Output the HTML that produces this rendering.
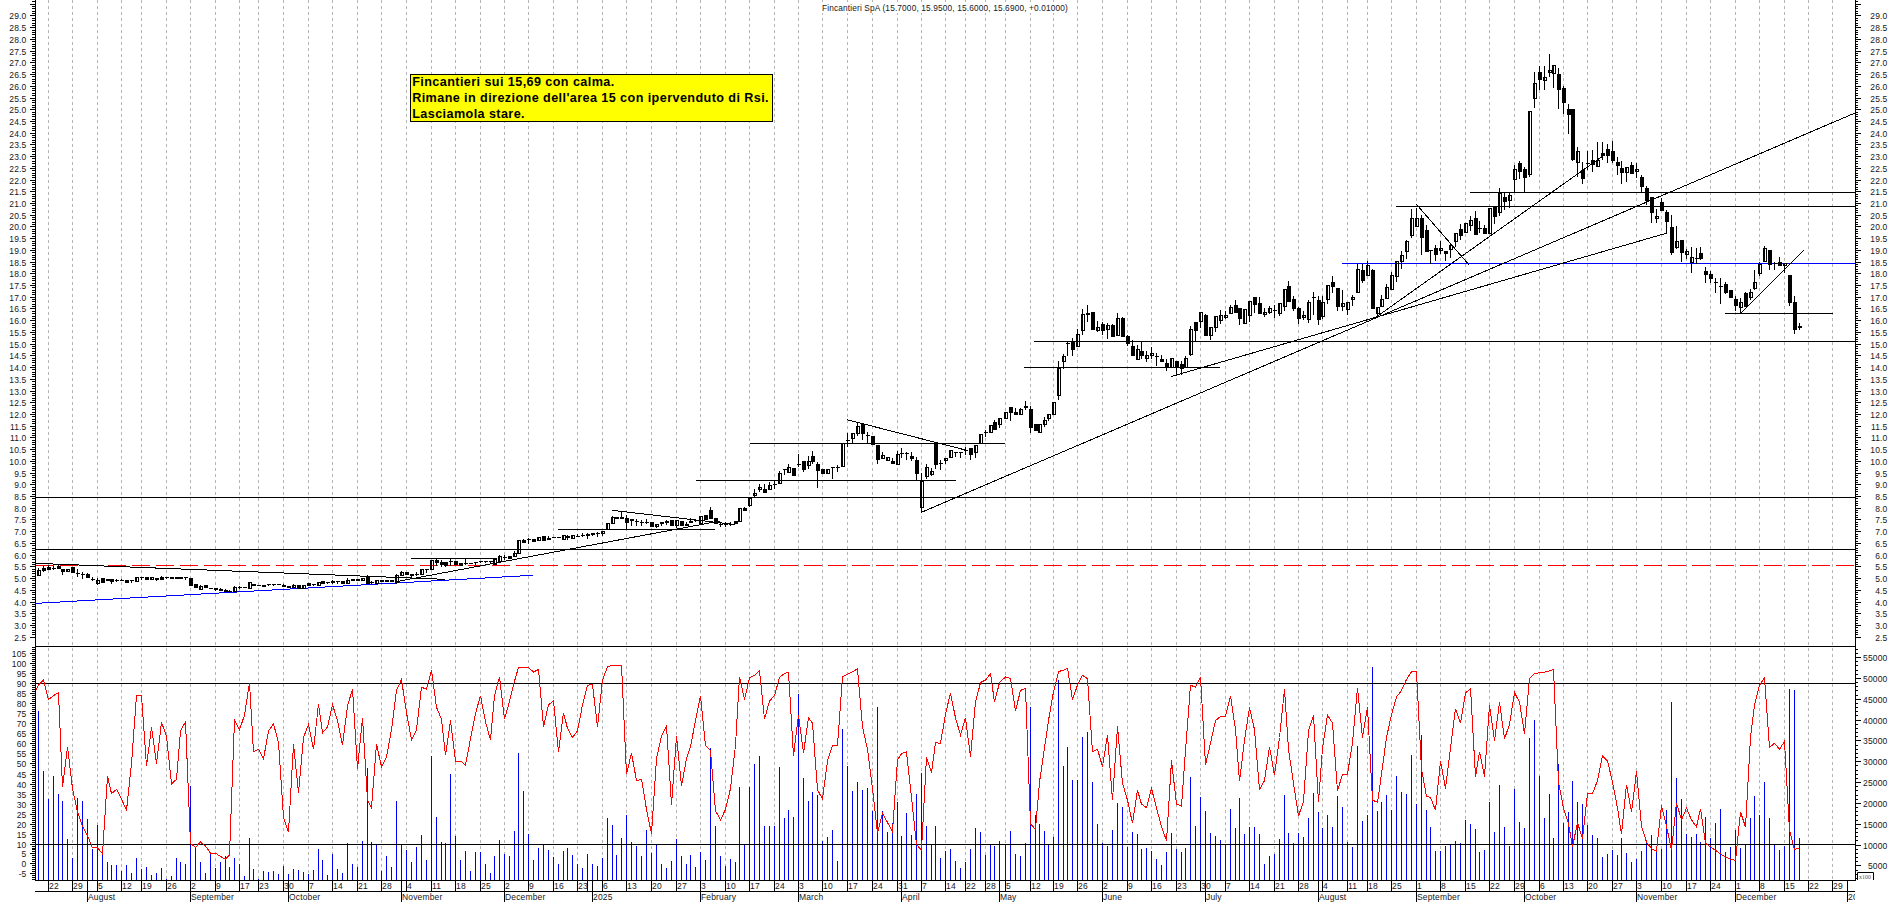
<!DOCTYPE html>
<html><head><meta charset="utf-8"><style>
html,body{margin:0;padding:0;background:#fff;overflow:hidden}
svg{display:block}
.t8{font-family:"Liberation Sans",sans-serif;font-size:8.5px;letter-spacing:0.15px;fill:#161620}
.ann{font-family:"Liberation Sans",sans-serif;font-size:12.6px;font-weight:bold;letter-spacing:0.42px;fill:#000}
</style></head><body>
<svg width="1890" height="902" viewBox="0 0 1890 902">
<rect width="1890" height="902" fill="#fff"/>
<path d="M48.5 0V880 M72.5 0V880 M97.5 0V880 M121.5 0V880 M141.5 0V880 M166.5 0V880 M190.5 0V880 M215.5 0V880 M239.5 0V880 M258.5 0V880 M283.5 0V880 M308.5 0V880 M332.5 0V880 M357.5 0V880 M381.5 0V880 M406.5 0V880 M431.5 0V880 M455.5 0V880 M480.5 0V880 M504.5 0V880 M528.5 0V880 M553.5 0V880 M577.5 0V880 M602.5 0V880 M626.5 0V880 M651.5 0V880 M676.5 0V880 M700.5 0V880 M725.5 0V880 M749.5 0V880 M774.5 0V880 M798.5 0V880 M822.5 0V880 M847.5 0V880 M872.5 0V880 M897.5 0V880 M921.5 0V880 M945.5 0V880 M965.5 0V880 M985.5 0V880 M1005.5 0V880 M1030.5 0V880 M1053.5 0V880 M1077.5 0V880 M1102.5 0V880 M1127.5 0V880 M1151.5 0V880 M1176.5 0V880 M1200.5 0V880 M1225.5 0V880 M1249.5 0V880 M1274.5 0V880 M1298.5 0V880 M1322.5 0V880 M1347.5 0V880 M1367.5 0V880 M1391.5 0V880 M1416.5 0V880 M1440.5 0V880 M1465.5 0V880 M1489.5 0V880 M1514.5 0V880 M1539.5 0V880 M1563.5 0V880 M1587.5 0V880 M1612.5 0V880 M1636.5 0V880 M1661.5 0V880 M1686.5 0V880 M1710.5 0V880 M1735.5 0V880 M1759.5 0V880 M1784.5 0V880 M1808.5 0V880 M1832.5 0V880" stroke="#b4b4b4" stroke-width="1" stroke-dasharray="3 3" fill="none"/>
<rect x="818" y="2" width="254" height="11" fill="#fff"/>
<text x="822" y="11" class="t8" textLength="246" lengthAdjust="spacingAndGlyphs">Fincantieri SpA (15.7000, 15.9500, 15.6000, 15.6900, +0.01000)</text>
<path d="M35.5 0V880 M1855.5 0V880" stroke="#000" stroke-width="1" fill="none"/>
<g fill="#000"><rect x="30" y="637" width="5" height="1"/><rect x="1856" y="637" width="5" height="1"/><rect x="32" y="634" width="3" height="1"/><rect x="1856" y="634" width="2" height="1"/><rect x="32" y="632" width="3" height="1"/><rect x="1856" y="632" width="2" height="1"/><rect x="32" y="630" width="3" height="1"/><rect x="1856" y="630" width="2" height="1"/><rect x="32" y="627" width="3" height="1"/><rect x="1856" y="627" width="2" height="1"/><rect x="30" y="625" width="5" height="1"/><rect x="1856" y="625" width="5" height="1"/><rect x="32" y="623" width="3" height="1"/><rect x="1856" y="623" width="2" height="1"/><rect x="32" y="620" width="3" height="1"/><rect x="1856" y="620" width="2" height="1"/><rect x="32" y="618" width="3" height="1"/><rect x="1856" y="618" width="2" height="1"/><rect x="32" y="616" width="3" height="1"/><rect x="1856" y="616" width="2" height="1"/><rect x="30" y="613" width="5" height="1"/><rect x="1856" y="613" width="5" height="1"/><rect x="32" y="611" width="3" height="1"/><rect x="1856" y="611" width="2" height="1"/><rect x="32" y="609" width="3" height="1"/><rect x="1856" y="609" width="2" height="1"/><rect x="32" y="606" width="3" height="1"/><rect x="1856" y="606" width="2" height="1"/><rect x="32" y="604" width="3" height="1"/><rect x="1856" y="604" width="2" height="1"/><rect x="30" y="602" width="5" height="1"/><rect x="1856" y="602" width="5" height="1"/><rect x="32" y="599" width="3" height="1"/><rect x="1856" y="599" width="2" height="1"/><rect x="32" y="597" width="3" height="1"/><rect x="1856" y="597" width="2" height="1"/><rect x="32" y="594" width="3" height="1"/><rect x="1856" y="594" width="2" height="1"/><rect x="32" y="592" width="3" height="1"/><rect x="1856" y="592" width="2" height="1"/><rect x="30" y="590" width="5" height="1"/><rect x="1856" y="590" width="5" height="1"/><rect x="32" y="587" width="3" height="1"/><rect x="1856" y="587" width="2" height="1"/><rect x="32" y="585" width="3" height="1"/><rect x="1856" y="585" width="2" height="1"/><rect x="32" y="583" width="3" height="1"/><rect x="1856" y="583" width="2" height="1"/><rect x="32" y="580" width="3" height="1"/><rect x="1856" y="580" width="2" height="1"/><rect x="30" y="578" width="5" height="1"/><rect x="1856" y="578" width="5" height="1"/><rect x="32" y="576" width="3" height="1"/><rect x="1856" y="576" width="2" height="1"/><rect x="32" y="573" width="3" height="1"/><rect x="1856" y="573" width="2" height="1"/><rect x="32" y="571" width="3" height="1"/><rect x="1856" y="571" width="2" height="1"/><rect x="32" y="569" width="3" height="1"/><rect x="1856" y="569" width="2" height="1"/><rect x="30" y="566" width="5" height="1"/><rect x="1856" y="566" width="5" height="1"/><rect x="32" y="564" width="3" height="1"/><rect x="1856" y="564" width="2" height="1"/><rect x="32" y="562" width="3" height="1"/><rect x="1856" y="562" width="2" height="1"/><rect x="32" y="559" width="3" height="1"/><rect x="1856" y="559" width="2" height="1"/><rect x="32" y="557" width="3" height="1"/><rect x="1856" y="557" width="2" height="1"/><rect x="30" y="555" width="5" height="1"/><rect x="1856" y="555" width="5" height="1"/><rect x="32" y="552" width="3" height="1"/><rect x="1856" y="552" width="2" height="1"/><rect x="32" y="550" width="3" height="1"/><rect x="1856" y="550" width="2" height="1"/><rect x="32" y="548" width="3" height="1"/><rect x="1856" y="548" width="2" height="1"/><rect x="32" y="545" width="3" height="1"/><rect x="1856" y="545" width="2" height="1"/><rect x="30" y="543" width="5" height="1"/><rect x="1856" y="543" width="5" height="1"/><rect x="32" y="541" width="3" height="1"/><rect x="1856" y="541" width="2" height="1"/><rect x="32" y="538" width="3" height="1"/><rect x="1856" y="538" width="2" height="1"/><rect x="32" y="536" width="3" height="1"/><rect x="1856" y="536" width="2" height="1"/><rect x="32" y="534" width="3" height="1"/><rect x="1856" y="534" width="2" height="1"/><rect x="30" y="531" width="5" height="1"/><rect x="1856" y="531" width="5" height="1"/><rect x="32" y="529" width="3" height="1"/><rect x="1856" y="529" width="2" height="1"/><rect x="32" y="526" width="3" height="1"/><rect x="1856" y="526" width="2" height="1"/><rect x="32" y="524" width="3" height="1"/><rect x="1856" y="524" width="2" height="1"/><rect x="32" y="522" width="3" height="1"/><rect x="1856" y="522" width="2" height="1"/><rect x="30" y="519" width="5" height="1"/><rect x="1856" y="519" width="5" height="1"/><rect x="32" y="517" width="3" height="1"/><rect x="1856" y="517" width="2" height="1"/><rect x="32" y="515" width="3" height="1"/><rect x="1856" y="515" width="2" height="1"/><rect x="32" y="512" width="3" height="1"/><rect x="1856" y="512" width="2" height="1"/><rect x="32" y="510" width="3" height="1"/><rect x="1856" y="510" width="2" height="1"/><rect x="30" y="508" width="5" height="1"/><rect x="1856" y="508" width="5" height="1"/><rect x="32" y="505" width="3" height="1"/><rect x="1856" y="505" width="2" height="1"/><rect x="32" y="503" width="3" height="1"/><rect x="1856" y="503" width="2" height="1"/><rect x="32" y="501" width="3" height="1"/><rect x="1856" y="501" width="2" height="1"/><rect x="32" y="498" width="3" height="1"/><rect x="1856" y="498" width="2" height="1"/><rect x="30" y="496" width="5" height="1"/><rect x="1856" y="496" width="5" height="1"/><rect x="32" y="494" width="3" height="1"/><rect x="1856" y="494" width="2" height="1"/><rect x="32" y="491" width="3" height="1"/><rect x="1856" y="491" width="2" height="1"/><rect x="32" y="489" width="3" height="1"/><rect x="1856" y="489" width="2" height="1"/><rect x="32" y="487" width="3" height="1"/><rect x="1856" y="487" width="2" height="1"/><rect x="30" y="484" width="5" height="1"/><rect x="1856" y="484" width="5" height="1"/><rect x="32" y="482" width="3" height="1"/><rect x="1856" y="482" width="2" height="1"/><rect x="32" y="480" width="3" height="1"/><rect x="1856" y="480" width="2" height="1"/><rect x="32" y="477" width="3" height="1"/><rect x="1856" y="477" width="2" height="1"/><rect x="32" y="475" width="3" height="1"/><rect x="1856" y="475" width="2" height="1"/><rect x="30" y="473" width="5" height="1"/><rect x="1856" y="473" width="5" height="1"/><rect x="32" y="470" width="3" height="1"/><rect x="1856" y="470" width="2" height="1"/><rect x="32" y="468" width="3" height="1"/><rect x="1856" y="468" width="2" height="1"/><rect x="32" y="466" width="3" height="1"/><rect x="1856" y="466" width="2" height="1"/><rect x="32" y="463" width="3" height="1"/><rect x="1856" y="463" width="2" height="1"/><rect x="30" y="461" width="5" height="1"/><rect x="1856" y="461" width="5" height="1"/><rect x="32" y="459" width="3" height="1"/><rect x="1856" y="459" width="2" height="1"/><rect x="32" y="456" width="3" height="1"/><rect x="1856" y="456" width="2" height="1"/><rect x="32" y="454" width="3" height="1"/><rect x="1856" y="454" width="2" height="1"/><rect x="32" y="451" width="3" height="1"/><rect x="1856" y="451" width="2" height="1"/><rect x="30" y="449" width="5" height="1"/><rect x="1856" y="449" width="5" height="1"/><rect x="32" y="447" width="3" height="1"/><rect x="1856" y="447" width="2" height="1"/><rect x="32" y="444" width="3" height="1"/><rect x="1856" y="444" width="2" height="1"/><rect x="32" y="442" width="3" height="1"/><rect x="1856" y="442" width="2" height="1"/><rect x="32" y="440" width="3" height="1"/><rect x="1856" y="440" width="2" height="1"/><rect x="30" y="437" width="5" height="1"/><rect x="1856" y="437" width="5" height="1"/><rect x="32" y="435" width="3" height="1"/><rect x="1856" y="435" width="2" height="1"/><rect x="32" y="433" width="3" height="1"/><rect x="1856" y="433" width="2" height="1"/><rect x="32" y="430" width="3" height="1"/><rect x="1856" y="430" width="2" height="1"/><rect x="32" y="428" width="3" height="1"/><rect x="1856" y="428" width="2" height="1"/><rect x="30" y="426" width="5" height="1"/><rect x="1856" y="426" width="5" height="1"/><rect x="32" y="423" width="3" height="1"/><rect x="1856" y="423" width="2" height="1"/><rect x="32" y="421" width="3" height="1"/><rect x="1856" y="421" width="2" height="1"/><rect x="32" y="419" width="3" height="1"/><rect x="1856" y="419" width="2" height="1"/><rect x="32" y="416" width="3" height="1"/><rect x="1856" y="416" width="2" height="1"/><rect x="30" y="414" width="5" height="1"/><rect x="1856" y="414" width="5" height="1"/><rect x="32" y="412" width="3" height="1"/><rect x="1856" y="412" width="2" height="1"/><rect x="32" y="409" width="3" height="1"/><rect x="1856" y="409" width="2" height="1"/><rect x="32" y="407" width="3" height="1"/><rect x="1856" y="407" width="2" height="1"/><rect x="32" y="405" width="3" height="1"/><rect x="1856" y="405" width="2" height="1"/><rect x="30" y="402" width="5" height="1"/><rect x="1856" y="402" width="5" height="1"/><rect x="32" y="400" width="3" height="1"/><rect x="1856" y="400" width="2" height="1"/><rect x="32" y="398" width="3" height="1"/><rect x="1856" y="398" width="2" height="1"/><rect x="32" y="395" width="3" height="1"/><rect x="1856" y="395" width="2" height="1"/><rect x="32" y="393" width="3" height="1"/><rect x="1856" y="393" width="2" height="1"/><rect x="30" y="391" width="5" height="1"/><rect x="1856" y="391" width="5" height="1"/><rect x="32" y="388" width="3" height="1"/><rect x="1856" y="388" width="2" height="1"/><rect x="32" y="386" width="3" height="1"/><rect x="1856" y="386" width="2" height="1"/><rect x="32" y="384" width="3" height="1"/><rect x="1856" y="384" width="2" height="1"/><rect x="32" y="381" width="3" height="1"/><rect x="1856" y="381" width="2" height="1"/><rect x="30" y="379" width="5" height="1"/><rect x="1856" y="379" width="5" height="1"/><rect x="32" y="376" width="3" height="1"/><rect x="1856" y="376" width="2" height="1"/><rect x="32" y="374" width="3" height="1"/><rect x="1856" y="374" width="2" height="1"/><rect x="32" y="372" width="3" height="1"/><rect x="1856" y="372" width="2" height="1"/><rect x="32" y="369" width="3" height="1"/><rect x="1856" y="369" width="2" height="1"/><rect x="30" y="367" width="5" height="1"/><rect x="1856" y="367" width="5" height="1"/><rect x="32" y="365" width="3" height="1"/><rect x="1856" y="365" width="2" height="1"/><rect x="32" y="362" width="3" height="1"/><rect x="1856" y="362" width="2" height="1"/><rect x="32" y="360" width="3" height="1"/><rect x="1856" y="360" width="2" height="1"/><rect x="32" y="358" width="3" height="1"/><rect x="1856" y="358" width="2" height="1"/><rect x="30" y="355" width="5" height="1"/><rect x="1856" y="355" width="5" height="1"/><rect x="32" y="353" width="3" height="1"/><rect x="1856" y="353" width="2" height="1"/><rect x="32" y="351" width="3" height="1"/><rect x="1856" y="351" width="2" height="1"/><rect x="32" y="348" width="3" height="1"/><rect x="1856" y="348" width="2" height="1"/><rect x="32" y="346" width="3" height="1"/><rect x="1856" y="346" width="2" height="1"/><rect x="30" y="344" width="5" height="1"/><rect x="1856" y="344" width="5" height="1"/><rect x="32" y="341" width="3" height="1"/><rect x="1856" y="341" width="2" height="1"/><rect x="32" y="339" width="3" height="1"/><rect x="1856" y="339" width="2" height="1"/><rect x="32" y="337" width="3" height="1"/><rect x="1856" y="337" width="2" height="1"/><rect x="32" y="334" width="3" height="1"/><rect x="1856" y="334" width="2" height="1"/><rect x="30" y="332" width="5" height="1"/><rect x="1856" y="332" width="5" height="1"/><rect x="32" y="330" width="3" height="1"/><rect x="1856" y="330" width="2" height="1"/><rect x="32" y="327" width="3" height="1"/><rect x="1856" y="327" width="2" height="1"/><rect x="32" y="325" width="3" height="1"/><rect x="1856" y="325" width="2" height="1"/><rect x="32" y="323" width="3" height="1"/><rect x="1856" y="323" width="2" height="1"/><rect x="30" y="320" width="5" height="1"/><rect x="1856" y="320" width="5" height="1"/><rect x="32" y="318" width="3" height="1"/><rect x="1856" y="318" width="2" height="1"/><rect x="32" y="316" width="3" height="1"/><rect x="1856" y="316" width="2" height="1"/><rect x="32" y="313" width="3" height="1"/><rect x="1856" y="313" width="2" height="1"/><rect x="32" y="311" width="3" height="1"/><rect x="1856" y="311" width="2" height="1"/><rect x="30" y="308" width="5" height="1"/><rect x="1856" y="308" width="5" height="1"/><rect x="32" y="306" width="3" height="1"/><rect x="1856" y="306" width="2" height="1"/><rect x="32" y="304" width="3" height="1"/><rect x="1856" y="304" width="2" height="1"/><rect x="32" y="301" width="3" height="1"/><rect x="1856" y="301" width="2" height="1"/><rect x="32" y="299" width="3" height="1"/><rect x="1856" y="299" width="2" height="1"/><rect x="30" y="297" width="5" height="1"/><rect x="1856" y="297" width="5" height="1"/><rect x="32" y="294" width="3" height="1"/><rect x="1856" y="294" width="2" height="1"/><rect x="32" y="292" width="3" height="1"/><rect x="1856" y="292" width="2" height="1"/><rect x="32" y="290" width="3" height="1"/><rect x="1856" y="290" width="2" height="1"/><rect x="32" y="287" width="3" height="1"/><rect x="1856" y="287" width="2" height="1"/><rect x="30" y="285" width="5" height="1"/><rect x="1856" y="285" width="5" height="1"/><rect x="32" y="283" width="3" height="1"/><rect x="1856" y="283" width="2" height="1"/><rect x="32" y="280" width="3" height="1"/><rect x="1856" y="280" width="2" height="1"/><rect x="32" y="278" width="3" height="1"/><rect x="1856" y="278" width="2" height="1"/><rect x="32" y="276" width="3" height="1"/><rect x="1856" y="276" width="2" height="1"/><rect x="30" y="273" width="5" height="1"/><rect x="1856" y="273" width="5" height="1"/><rect x="32" y="271" width="3" height="1"/><rect x="1856" y="271" width="2" height="1"/><rect x="32" y="269" width="3" height="1"/><rect x="1856" y="269" width="2" height="1"/><rect x="32" y="266" width="3" height="1"/><rect x="1856" y="266" width="2" height="1"/><rect x="32" y="264" width="3" height="1"/><rect x="1856" y="264" width="2" height="1"/><rect x="30" y="262" width="5" height="1"/><rect x="1856" y="262" width="5" height="1"/><rect x="32" y="259" width="3" height="1"/><rect x="1856" y="259" width="2" height="1"/><rect x="32" y="257" width="3" height="1"/><rect x="1856" y="257" width="2" height="1"/><rect x="32" y="255" width="3" height="1"/><rect x="1856" y="255" width="2" height="1"/><rect x="32" y="252" width="3" height="1"/><rect x="1856" y="252" width="2" height="1"/><rect x="30" y="250" width="5" height="1"/><rect x="1856" y="250" width="5" height="1"/><rect x="32" y="248" width="3" height="1"/><rect x="1856" y="248" width="2" height="1"/><rect x="32" y="245" width="3" height="1"/><rect x="1856" y="245" width="2" height="1"/><rect x="32" y="243" width="3" height="1"/><rect x="1856" y="243" width="2" height="1"/><rect x="32" y="241" width="3" height="1"/><rect x="1856" y="241" width="2" height="1"/><rect x="30" y="238" width="5" height="1"/><rect x="1856" y="238" width="5" height="1"/><rect x="32" y="236" width="3" height="1"/><rect x="1856" y="236" width="2" height="1"/><rect x="32" y="233" width="3" height="1"/><rect x="1856" y="233" width="2" height="1"/><rect x="32" y="231" width="3" height="1"/><rect x="1856" y="231" width="2" height="1"/><rect x="32" y="229" width="3" height="1"/><rect x="1856" y="229" width="2" height="1"/><rect x="30" y="226" width="5" height="1"/><rect x="1856" y="226" width="5" height="1"/><rect x="32" y="224" width="3" height="1"/><rect x="1856" y="224" width="2" height="1"/><rect x="32" y="222" width="3" height="1"/><rect x="1856" y="222" width="2" height="1"/><rect x="32" y="219" width="3" height="1"/><rect x="1856" y="219" width="2" height="1"/><rect x="32" y="217" width="3" height="1"/><rect x="1856" y="217" width="2" height="1"/><rect x="30" y="215" width="5" height="1"/><rect x="1856" y="215" width="5" height="1"/><rect x="32" y="212" width="3" height="1"/><rect x="1856" y="212" width="2" height="1"/><rect x="32" y="210" width="3" height="1"/><rect x="1856" y="210" width="2" height="1"/><rect x="32" y="208" width="3" height="1"/><rect x="1856" y="208" width="2" height="1"/><rect x="32" y="205" width="3" height="1"/><rect x="1856" y="205" width="2" height="1"/><rect x="30" y="203" width="5" height="1"/><rect x="1856" y="203" width="5" height="1"/><rect x="32" y="201" width="3" height="1"/><rect x="1856" y="201" width="2" height="1"/><rect x="32" y="198" width="3" height="1"/><rect x="1856" y="198" width="2" height="1"/><rect x="32" y="196" width="3" height="1"/><rect x="1856" y="196" width="2" height="1"/><rect x="32" y="194" width="3" height="1"/><rect x="1856" y="194" width="2" height="1"/><rect x="30" y="191" width="5" height="1"/><rect x="1856" y="191" width="5" height="1"/><rect x="32" y="189" width="3" height="1"/><rect x="1856" y="189" width="2" height="1"/><rect x="32" y="187" width="3" height="1"/><rect x="1856" y="187" width="2" height="1"/><rect x="32" y="184" width="3" height="1"/><rect x="1856" y="184" width="2" height="1"/><rect x="32" y="182" width="3" height="1"/><rect x="1856" y="182" width="2" height="1"/><rect x="30" y="180" width="5" height="1"/><rect x="1856" y="180" width="5" height="1"/><rect x="32" y="177" width="3" height="1"/><rect x="1856" y="177" width="2" height="1"/><rect x="32" y="175" width="3" height="1"/><rect x="1856" y="175" width="2" height="1"/><rect x="32" y="173" width="3" height="1"/><rect x="1856" y="173" width="2" height="1"/><rect x="32" y="170" width="3" height="1"/><rect x="1856" y="170" width="2" height="1"/><rect x="30" y="168" width="5" height="1"/><rect x="1856" y="168" width="5" height="1"/><rect x="32" y="166" width="3" height="1"/><rect x="1856" y="166" width="2" height="1"/><rect x="32" y="163" width="3" height="1"/><rect x="1856" y="163" width="2" height="1"/><rect x="32" y="161" width="3" height="1"/><rect x="1856" y="161" width="2" height="1"/><rect x="32" y="158" width="3" height="1"/><rect x="1856" y="158" width="2" height="1"/><rect x="30" y="156" width="5" height="1"/><rect x="1856" y="156" width="5" height="1"/><rect x="32" y="154" width="3" height="1"/><rect x="1856" y="154" width="2" height="1"/><rect x="32" y="151" width="3" height="1"/><rect x="1856" y="151" width="2" height="1"/><rect x="32" y="149" width="3" height="1"/><rect x="1856" y="149" width="2" height="1"/><rect x="32" y="147" width="3" height="1"/><rect x="1856" y="147" width="2" height="1"/><rect x="30" y="144" width="5" height="1"/><rect x="1856" y="144" width="5" height="1"/><rect x="32" y="142" width="3" height="1"/><rect x="1856" y="142" width="2" height="1"/><rect x="32" y="140" width="3" height="1"/><rect x="1856" y="140" width="2" height="1"/><rect x="32" y="137" width="3" height="1"/><rect x="1856" y="137" width="2" height="1"/><rect x="32" y="135" width="3" height="1"/><rect x="1856" y="135" width="2" height="1"/><rect x="30" y="133" width="5" height="1"/><rect x="1856" y="133" width="5" height="1"/><rect x="32" y="130" width="3" height="1"/><rect x="1856" y="130" width="2" height="1"/><rect x="32" y="128" width="3" height="1"/><rect x="1856" y="128" width="2" height="1"/><rect x="32" y="126" width="3" height="1"/><rect x="1856" y="126" width="2" height="1"/><rect x="32" y="123" width="3" height="1"/><rect x="1856" y="123" width="2" height="1"/><rect x="30" y="121" width="5" height="1"/><rect x="1856" y="121" width="5" height="1"/><rect x="32" y="119" width="3" height="1"/><rect x="1856" y="119" width="2" height="1"/><rect x="32" y="116" width="3" height="1"/><rect x="1856" y="116" width="2" height="1"/><rect x="32" y="114" width="3" height="1"/><rect x="1856" y="114" width="2" height="1"/><rect x="32" y="112" width="3" height="1"/><rect x="1856" y="112" width="2" height="1"/><rect x="30" y="109" width="5" height="1"/><rect x="1856" y="109" width="5" height="1"/><rect x="32" y="107" width="3" height="1"/><rect x="1856" y="107" width="2" height="1"/><rect x="32" y="105" width="3" height="1"/><rect x="1856" y="105" width="2" height="1"/><rect x="32" y="102" width="3" height="1"/><rect x="1856" y="102" width="2" height="1"/><rect x="32" y="100" width="3" height="1"/><rect x="1856" y="100" width="2" height="1"/><rect x="30" y="98" width="5" height="1"/><rect x="1856" y="98" width="5" height="1"/><rect x="32" y="95" width="3" height="1"/><rect x="1856" y="95" width="2" height="1"/><rect x="32" y="93" width="3" height="1"/><rect x="1856" y="93" width="2" height="1"/><rect x="32" y="90" width="3" height="1"/><rect x="1856" y="90" width="2" height="1"/><rect x="32" y="88" width="3" height="1"/><rect x="1856" y="88" width="2" height="1"/><rect x="30" y="86" width="5" height="1"/><rect x="1856" y="86" width="5" height="1"/><rect x="32" y="83" width="3" height="1"/><rect x="1856" y="83" width="2" height="1"/><rect x="32" y="81" width="3" height="1"/><rect x="1856" y="81" width="2" height="1"/><rect x="32" y="79" width="3" height="1"/><rect x="1856" y="79" width="2" height="1"/><rect x="32" y="76" width="3" height="1"/><rect x="1856" y="76" width="2" height="1"/><rect x="30" y="74" width="5" height="1"/><rect x="1856" y="74" width="5" height="1"/><rect x="32" y="72" width="3" height="1"/><rect x="1856" y="72" width="2" height="1"/><rect x="32" y="69" width="3" height="1"/><rect x="1856" y="69" width="2" height="1"/><rect x="32" y="67" width="3" height="1"/><rect x="1856" y="67" width="2" height="1"/><rect x="32" y="65" width="3" height="1"/><rect x="1856" y="65" width="2" height="1"/><rect x="30" y="62" width="5" height="1"/><rect x="1856" y="62" width="5" height="1"/><rect x="32" y="60" width="3" height="1"/><rect x="1856" y="60" width="2" height="1"/><rect x="32" y="58" width="3" height="1"/><rect x="1856" y="58" width="2" height="1"/><rect x="32" y="55" width="3" height="1"/><rect x="1856" y="55" width="2" height="1"/><rect x="32" y="53" width="3" height="1"/><rect x="1856" y="53" width="2" height="1"/><rect x="30" y="51" width="5" height="1"/><rect x="1856" y="51" width="5" height="1"/><rect x="32" y="48" width="3" height="1"/><rect x="1856" y="48" width="2" height="1"/><rect x="32" y="46" width="3" height="1"/><rect x="1856" y="46" width="2" height="1"/><rect x="32" y="44" width="3" height="1"/><rect x="1856" y="44" width="2" height="1"/><rect x="32" y="41" width="3" height="1"/><rect x="1856" y="41" width="2" height="1"/><rect x="30" y="39" width="5" height="1"/><rect x="1856" y="39" width="5" height="1"/><rect x="32" y="37" width="3" height="1"/><rect x="1856" y="37" width="2" height="1"/><rect x="32" y="34" width="3" height="1"/><rect x="1856" y="34" width="2" height="1"/><rect x="32" y="32" width="3" height="1"/><rect x="1856" y="32" width="2" height="1"/><rect x="32" y="30" width="3" height="1"/><rect x="1856" y="30" width="2" height="1"/><rect x="30" y="27" width="5" height="1"/><rect x="1856" y="27" width="5" height="1"/><rect x="32" y="25" width="3" height="1"/><rect x="1856" y="25" width="2" height="1"/><rect x="32" y="23" width="3" height="1"/><rect x="1856" y="23" width="2" height="1"/><rect x="32" y="20" width="3" height="1"/><rect x="1856" y="20" width="2" height="1"/><rect x="32" y="18" width="3" height="1"/><rect x="1856" y="18" width="2" height="1"/><rect x="30" y="15" width="5" height="1"/><rect x="1856" y="15" width="5" height="1"/><rect x="32" y="13" width="3" height="1"/><rect x="1856" y="13" width="2" height="1"/><rect x="32" y="11" width="3" height="1"/><rect x="1856" y="11" width="2" height="1"/><rect x="32" y="8" width="3" height="1"/><rect x="1856" y="8" width="2" height="1"/><rect x="32" y="6" width="3" height="1"/><rect x="1856" y="6" width="2" height="1"/><rect x="30" y="4" width="5" height="1"/><rect x="1856" y="4" width="5" height="1"/><rect x="32" y="1" width="3" height="1"/><rect x="1856" y="1" width="2" height="1"/></g>
<g><text x="26.5" y="640.5" class="t8" text-anchor="end">2.5</text><text x="1887.5" y="640.5" class="t8" text-anchor="end">2.5</text><text x="26.5" y="628.5" class="t8" text-anchor="end">3.0</text><text x="1887.5" y="628.5" class="t8" text-anchor="end">3.0</text><text x="26.5" y="616.5" class="t8" text-anchor="end">3.5</text><text x="1887.5" y="616.5" class="t8" text-anchor="end">3.5</text><text x="26.5" y="605.5" class="t8" text-anchor="end">4.0</text><text x="1887.5" y="605.5" class="t8" text-anchor="end">4.0</text><text x="26.5" y="593.5" class="t8" text-anchor="end">4.5</text><text x="1887.5" y="593.5" class="t8" text-anchor="end">4.5</text><text x="26.5" y="581.5" class="t8" text-anchor="end">5.0</text><text x="1887.5" y="581.5" class="t8" text-anchor="end">5.0</text><text x="26.5" y="569.5" class="t8" text-anchor="end">5.5</text><text x="1887.5" y="569.5" class="t8" text-anchor="end">5.5</text><text x="26.5" y="558.5" class="t8" text-anchor="end">6.0</text><text x="1887.5" y="558.5" class="t8" text-anchor="end">6.0</text><text x="26.5" y="546.5" class="t8" text-anchor="end">6.5</text><text x="1887.5" y="546.5" class="t8" text-anchor="end">6.5</text><text x="26.5" y="534.5" class="t8" text-anchor="end">7.0</text><text x="1887.5" y="534.5" class="t8" text-anchor="end">7.0</text><text x="26.5" y="522.5" class="t8" text-anchor="end">7.5</text><text x="1887.5" y="522.5" class="t8" text-anchor="end">7.5</text><text x="26.5" y="511.5" class="t8" text-anchor="end">8.0</text><text x="1887.5" y="511.5" class="t8" text-anchor="end">8.0</text><text x="26.5" y="499.5" class="t8" text-anchor="end">8.5</text><text x="1887.5" y="499.5" class="t8" text-anchor="end">8.5</text><text x="26.5" y="487.5" class="t8" text-anchor="end">9.0</text><text x="1887.5" y="487.5" class="t8" text-anchor="end">9.0</text><text x="26.5" y="476.5" class="t8" text-anchor="end">9.5</text><text x="1887.5" y="476.5" class="t8" text-anchor="end">9.5</text><text x="26.5" y="464.5" class="t8" text-anchor="end">10.0</text><text x="1887.5" y="464.5" class="t8" text-anchor="end">10.0</text><text x="26.5" y="452.5" class="t8" text-anchor="end">10.5</text><text x="1887.5" y="452.5" class="t8" text-anchor="end">10.5</text><text x="26.5" y="440.5" class="t8" text-anchor="end">11.0</text><text x="1887.5" y="440.5" class="t8" text-anchor="end">11.0</text><text x="26.5" y="429.5" class="t8" text-anchor="end">11.5</text><text x="1887.5" y="429.5" class="t8" text-anchor="end">11.5</text><text x="26.5" y="417.5" class="t8" text-anchor="end">12.0</text><text x="1887.5" y="417.5" class="t8" text-anchor="end">12.0</text><text x="26.5" y="405.5" class="t8" text-anchor="end">12.5</text><text x="1887.5" y="405.5" class="t8" text-anchor="end">12.5</text><text x="26.5" y="394.5" class="t8" text-anchor="end">13.0</text><text x="1887.5" y="394.5" class="t8" text-anchor="end">13.0</text><text x="26.5" y="382.5" class="t8" text-anchor="end">13.5</text><text x="1887.5" y="382.5" class="t8" text-anchor="end">13.5</text><text x="26.5" y="370.5" class="t8" text-anchor="end">14.0</text><text x="1887.5" y="370.5" class="t8" text-anchor="end">14.0</text><text x="26.5" y="358.5" class="t8" text-anchor="end">14.5</text><text x="1887.5" y="358.5" class="t8" text-anchor="end">14.5</text><text x="26.5" y="347.5" class="t8" text-anchor="end">15.0</text><text x="1887.5" y="347.5" class="t8" text-anchor="end">15.0</text><text x="26.5" y="335.5" class="t8" text-anchor="end">15.5</text><text x="1887.5" y="335.5" class="t8" text-anchor="end">15.5</text><text x="26.5" y="323.5" class="t8" text-anchor="end">16.0</text><text x="1887.5" y="323.5" class="t8" text-anchor="end">16.0</text><text x="26.5" y="311.5" class="t8" text-anchor="end">16.5</text><text x="1887.5" y="311.5" class="t8" text-anchor="end">16.5</text><text x="26.5" y="300.5" class="t8" text-anchor="end">17.0</text><text x="1887.5" y="300.5" class="t8" text-anchor="end">17.0</text><text x="26.5" y="288.5" class="t8" text-anchor="end">17.5</text><text x="1887.5" y="288.5" class="t8" text-anchor="end">17.5</text><text x="26.5" y="276.5" class="t8" text-anchor="end">18.0</text><text x="1887.5" y="276.5" class="t8" text-anchor="end">18.0</text><text x="26.5" y="265.5" class="t8" text-anchor="end">18.5</text><text x="1887.5" y="265.5" class="t8" text-anchor="end">18.5</text><text x="26.5" y="253.5" class="t8" text-anchor="end">19.0</text><text x="1887.5" y="253.5" class="t8" text-anchor="end">19.0</text><text x="26.5" y="241.5" class="t8" text-anchor="end">19.5</text><text x="1887.5" y="241.5" class="t8" text-anchor="end">19.5</text><text x="26.5" y="229.5" class="t8" text-anchor="end">20.0</text><text x="1887.5" y="229.5" class="t8" text-anchor="end">20.0</text><text x="26.5" y="218.5" class="t8" text-anchor="end">20.5</text><text x="1887.5" y="218.5" class="t8" text-anchor="end">20.5</text><text x="26.5" y="206.5" class="t8" text-anchor="end">21.0</text><text x="1887.5" y="206.5" class="t8" text-anchor="end">21.0</text><text x="26.5" y="194.5" class="t8" text-anchor="end">21.5</text><text x="1887.5" y="194.5" class="t8" text-anchor="end">21.5</text><text x="26.5" y="183.5" class="t8" text-anchor="end">22.0</text><text x="1887.5" y="183.5" class="t8" text-anchor="end">22.0</text><text x="26.5" y="171.5" class="t8" text-anchor="end">22.5</text><text x="1887.5" y="171.5" class="t8" text-anchor="end">22.5</text><text x="26.5" y="159.5" class="t8" text-anchor="end">23.0</text><text x="1887.5" y="159.5" class="t8" text-anchor="end">23.0</text><text x="26.5" y="147.5" class="t8" text-anchor="end">23.5</text><text x="1887.5" y="147.5" class="t8" text-anchor="end">23.5</text><text x="26.5" y="136.5" class="t8" text-anchor="end">24.0</text><text x="1887.5" y="136.5" class="t8" text-anchor="end">24.0</text><text x="26.5" y="124.5" class="t8" text-anchor="end">24.5</text><text x="1887.5" y="124.5" class="t8" text-anchor="end">24.5</text><text x="26.5" y="112.5" class="t8" text-anchor="end">25.0</text><text x="1887.5" y="112.5" class="t8" text-anchor="end">25.0</text><text x="26.5" y="101.5" class="t8" text-anchor="end">25.5</text><text x="1887.5" y="101.5" class="t8" text-anchor="end">25.5</text><text x="26.5" y="89.5" class="t8" text-anchor="end">26.0</text><text x="1887.5" y="89.5" class="t8" text-anchor="end">26.0</text><text x="26.5" y="77.5" class="t8" text-anchor="end">26.5</text><text x="1887.5" y="77.5" class="t8" text-anchor="end">26.5</text><text x="26.5" y="65.5" class="t8" text-anchor="end">27.0</text><text x="1887.5" y="65.5" class="t8" text-anchor="end">27.0</text><text x="26.5" y="54.5" class="t8" text-anchor="end">27.5</text><text x="1887.5" y="54.5" class="t8" text-anchor="end">27.5</text><text x="26.5" y="42.5" class="t8" text-anchor="end">28.0</text><text x="1887.5" y="42.5" class="t8" text-anchor="end">28.0</text><text x="26.5" y="30.5" class="t8" text-anchor="end">28.5</text><text x="1887.5" y="30.5" class="t8" text-anchor="end">28.5</text><text x="26.5" y="18.5" class="t8" text-anchor="end">29.0</text><text x="1887.5" y="18.5" class="t8" text-anchor="end">29.0</text></g>
<g fill="#000"><rect x="32" y="879" width="3" height="1"/><rect x="32" y="877" width="3" height="1"/><rect x="32" y="875" width="3" height="1"/><rect x="30" y="873" width="5" height="1"/><rect x="32" y="871" width="3" height="1"/><rect x="32" y="869" width="3" height="1"/><rect x="32" y="867" width="3" height="1"/><rect x="32" y="865" width="3" height="1"/><rect x="30" y="863" width="5" height="1"/><rect x="32" y="861" width="3" height="1"/><rect x="32" y="859" width="3" height="1"/><rect x="32" y="857" width="3" height="1"/><rect x="32" y="855" width="3" height="1"/><rect x="30" y="853" width="5" height="1"/><rect x="32" y="851" width="3" height="1"/><rect x="32" y="849" width="3" height="1"/><rect x="32" y="848" width="3" height="1"/><rect x="32" y="846" width="3" height="1"/><rect x="30" y="844" width="5" height="1"/><rect x="32" y="842" width="3" height="1"/><rect x="32" y="840" width="3" height="1"/><rect x="32" y="838" width="3" height="1"/><rect x="32" y="836" width="3" height="1"/><rect x="30" y="834" width="5" height="1"/><rect x="32" y="832" width="3" height="1"/><rect x="32" y="830" width="3" height="1"/><rect x="32" y="828" width="3" height="1"/><rect x="32" y="826" width="3" height="1"/><rect x="30" y="824" width="5" height="1"/><rect x="32" y="822" width="3" height="1"/><rect x="32" y="820" width="3" height="1"/><rect x="32" y="818" width="3" height="1"/><rect x="32" y="816" width="3" height="1"/><rect x="30" y="814" width="5" height="1"/><rect x="32" y="812" width="3" height="1"/><rect x="32" y="810" width="3" height="1"/><rect x="32" y="808" width="3" height="1"/><rect x="32" y="806" width="3" height="1"/><rect x="30" y="804" width="5" height="1"/><rect x="32" y="802" width="3" height="1"/><rect x="32" y="800" width="3" height="1"/><rect x="32" y="798" width="3" height="1"/><rect x="32" y="796" width="3" height="1"/><rect x="30" y="794" width="5" height="1"/><rect x="32" y="792" width="3" height="1"/><rect x="32" y="790" width="3" height="1"/><rect x="32" y="788" width="3" height="1"/><rect x="32" y="786" width="3" height="1"/><rect x="30" y="784" width="5" height="1"/><rect x="32" y="782" width="3" height="1"/><rect x="32" y="780" width="3" height="1"/><rect x="32" y="778" width="3" height="1"/><rect x="32" y="776" width="3" height="1"/><rect x="30" y="774" width="5" height="1"/><rect x="32" y="772" width="3" height="1"/><rect x="32" y="770" width="3" height="1"/><rect x="32" y="767" width="3" height="1"/><rect x="32" y="765" width="3" height="1"/><rect x="30" y="763" width="5" height="1"/><rect x="32" y="761" width="3" height="1"/><rect x="32" y="759" width="3" height="1"/><rect x="32" y="757" width="3" height="1"/><rect x="32" y="755" width="3" height="1"/><rect x="30" y="753" width="5" height="1"/><rect x="32" y="751" width="3" height="1"/><rect x="32" y="749" width="3" height="1"/><rect x="32" y="747" width="3" height="1"/><rect x="32" y="745" width="3" height="1"/><rect x="30" y="743" width="5" height="1"/><rect x="32" y="741" width="3" height="1"/><rect x="32" y="739" width="3" height="1"/><rect x="32" y="737" width="3" height="1"/><rect x="32" y="735" width="3" height="1"/><rect x="30" y="733" width="5" height="1"/><rect x="32" y="731" width="3" height="1"/><rect x="32" y="729" width="3" height="1"/><rect x="32" y="727" width="3" height="1"/><rect x="32" y="725" width="3" height="1"/><rect x="30" y="723" width="5" height="1"/><rect x="32" y="721" width="3" height="1"/><rect x="32" y="719" width="3" height="1"/><rect x="32" y="717" width="3" height="1"/><rect x="32" y="715" width="3" height="1"/><rect x="30" y="713" width="5" height="1"/><rect x="32" y="711" width="3" height="1"/><rect x="32" y="709" width="3" height="1"/><rect x="32" y="707" width="3" height="1"/><rect x="32" y="705" width="3" height="1"/><rect x="30" y="703" width="5" height="1"/><rect x="32" y="701" width="3" height="1"/><rect x="32" y="699" width="3" height="1"/><rect x="32" y="697" width="3" height="1"/><rect x="32" y="695" width="3" height="1"/><rect x="30" y="693" width="5" height="1"/><rect x="32" y="691" width="3" height="1"/><rect x="32" y="689" width="3" height="1"/><rect x="32" y="687" width="3" height="1"/><rect x="32" y="685" width="3" height="1"/><rect x="30" y="683" width="5" height="1"/><rect x="32" y="681" width="3" height="1"/><rect x="32" y="679" width="3" height="1"/><rect x="32" y="677" width="3" height="1"/><rect x="32" y="675" width="3" height="1"/><rect x="30" y="673" width="5" height="1"/><rect x="32" y="671" width="3" height="1"/><rect x="32" y="669" width="3" height="1"/><rect x="32" y="667" width="3" height="1"/><rect x="32" y="665" width="3" height="1"/><rect x="30" y="663" width="5" height="1"/><rect x="32" y="661" width="3" height="1"/><rect x="32" y="659" width="3" height="1"/><rect x="32" y="657" width="3" height="1"/><rect x="32" y="655" width="3" height="1"/><rect x="30" y="653" width="5" height="1"/><rect x="32" y="651" width="3" height="1"/><rect x="32" y="649" width="3" height="1"/><rect x="32" y="647" width="3" height="1"/><rect x="1856" y="878" width="2" height="1"/><rect x="1856" y="874" width="2" height="1"/><rect x="1856" y="870" width="2" height="1"/><rect x="1856" y="865" width="5" height="1"/><rect x="1856" y="861" width="2" height="1"/><rect x="1856" y="857" width="2" height="1"/><rect x="1856" y="853" width="2" height="1"/><rect x="1856" y="849" width="2" height="1"/><rect x="1856" y="845" width="5" height="1"/><rect x="1856" y="840" width="2" height="1"/><rect x="1856" y="836" width="2" height="1"/><rect x="1856" y="832" width="2" height="1"/><rect x="1856" y="828" width="2" height="1"/><rect x="1856" y="824" width="5" height="1"/><rect x="1856" y="820" width="2" height="1"/><rect x="1856" y="815" width="2" height="1"/><rect x="1856" y="811" width="2" height="1"/><rect x="1856" y="807" width="2" height="1"/><rect x="1856" y="803" width="5" height="1"/><rect x="1856" y="799" width="2" height="1"/><rect x="1856" y="795" width="2" height="1"/><rect x="1856" y="790" width="2" height="1"/><rect x="1856" y="786" width="2" height="1"/><rect x="1856" y="782" width="5" height="1"/><rect x="1856" y="778" width="2" height="1"/><rect x="1856" y="774" width="2" height="1"/><rect x="1856" y="770" width="2" height="1"/><rect x="1856" y="765" width="2" height="1"/><rect x="1856" y="761" width="5" height="1"/><rect x="1856" y="757" width="2" height="1"/><rect x="1856" y="753" width="2" height="1"/><rect x="1856" y="749" width="2" height="1"/><rect x="1856" y="745" width="2" height="1"/><rect x="1856" y="740" width="5" height="1"/><rect x="1856" y="736" width="2" height="1"/><rect x="1856" y="732" width="2" height="1"/><rect x="1856" y="728" width="2" height="1"/><rect x="1856" y="724" width="2" height="1"/><rect x="1856" y="720" width="5" height="1"/><rect x="1856" y="715" width="2" height="1"/><rect x="1856" y="711" width="2" height="1"/><rect x="1856" y="707" width="2" height="1"/><rect x="1856" y="703" width="2" height="1"/><rect x="1856" y="699" width="5" height="1"/><rect x="1856" y="695" width="2" height="1"/><rect x="1856" y="690" width="2" height="1"/><rect x="1856" y="686" width="2" height="1"/><rect x="1856" y="682" width="2" height="1"/><rect x="1856" y="678" width="5" height="1"/><rect x="1856" y="674" width="2" height="1"/><rect x="1856" y="670" width="2" height="1"/><rect x="1856" y="665" width="2" height="1"/><rect x="1856" y="661" width="2" height="1"/><rect x="1856" y="657" width="5" height="1"/><rect x="1856" y="653" width="2" height="1"/><rect x="1856" y="649" width="2" height="1"/></g>
<g><text x="26.5" y="876.5" class="t8" text-anchor="end">-5</text><text x="26.5" y="866.5" class="t8" text-anchor="end">0</text><text x="26.5" y="856.5" class="t8" text-anchor="end">5</text><text x="26.5" y="847.5" class="t8" text-anchor="end">10</text><text x="26.5" y="837.5" class="t8" text-anchor="end">15</text><text x="26.5" y="827.5" class="t8" text-anchor="end">20</text><text x="26.5" y="817.5" class="t8" text-anchor="end">25</text><text x="26.5" y="807.5" class="t8" text-anchor="end">30</text><text x="26.5" y="797.5" class="t8" text-anchor="end">35</text><text x="26.5" y="787.5" class="t8" text-anchor="end">40</text><text x="26.5" y="777.5" class="t8" text-anchor="end">45</text><text x="26.5" y="766.5" class="t8" text-anchor="end">50</text><text x="26.5" y="756.5" class="t8" text-anchor="end">55</text><text x="26.5" y="746.5" class="t8" text-anchor="end">60</text><text x="26.5" y="736.5" class="t8" text-anchor="end">65</text><text x="26.5" y="726.5" class="t8" text-anchor="end">70</text><text x="26.5" y="716.5" class="t8" text-anchor="end">75</text><text x="26.5" y="706.5" class="t8" text-anchor="end">80</text><text x="26.5" y="696.5" class="t8" text-anchor="end">85</text><text x="26.5" y="686.5" class="t8" text-anchor="end">90</text><text x="26.5" y="676.5" class="t8" text-anchor="end">95</text><text x="26.5" y="666.5" class="t8" text-anchor="end">100</text><text x="26.5" y="656.5" class="t8" text-anchor="end">105</text><text x="1887.5" y="868.5" class="t8" text-anchor="end">5000</text><text x="1887.5" y="848.5" class="t8" text-anchor="end">10000</text><text x="1887.5" y="827.5" class="t8" text-anchor="end">15000</text><text x="1887.5" y="806.5" class="t8" text-anchor="end">20000</text><text x="1887.5" y="785.5" class="t8" text-anchor="end">25000</text><text x="1887.5" y="764.5" class="t8" text-anchor="end">30000</text><text x="1887.5" y="743.5" class="t8" text-anchor="end">35000</text><text x="1887.5" y="723.5" class="t8" text-anchor="end">40000</text><text x="1887.5" y="702.5" class="t8" text-anchor="end">45000</text><text x="1887.5" y="681.5" class="t8" text-anchor="end">50000</text><text x="1887.5" y="660.5" class="t8" text-anchor="end">55000</text></g>
<g fill="#000"><rect x="35" y="497" width="1820" height="1"/><rect x="35" y="549" width="1820" height="1"/><rect x="411" y="558" width="86" height="1"/><rect x="558" y="529" width="157" height="1"/><rect x="750" y="443" width="255" height="1"/><rect x="696" y="480" width="260" height="1"/><rect x="1034" y="341" width="821" height="1"/><rect x="1024" y="367" width="196" height="1"/><rect x="1396" y="206" width="459" height="1"/><rect x="1470" y="192" width="385" height="1"/><rect x="1725" y="313" width="108" height="1"/><rect x="35" y="646" width="1820" height="1"/><rect x="35" y="683" width="1820" height="1"/><rect x="35" y="844" width="1820" height="1"/><rect x="35" y="880" width="1821" height="1"/><rect x="35" y="891" width="1820" height="1"/></g>
<path d="M36 565.5H1855" stroke="#ff0000" stroke-width="1" stroke-dasharray="18 6" fill="none"/>
<rect x="1342" y="263" width="513" height="1" fill="#0000ff"/>
<g shape-rendering="crispEdges" fill="none"><line x1="35" y1="563.3" x2="444.8" y2="579.3" stroke="#000"/><line x1="397" y1="581.5" x2="720" y2="521.0" stroke="#000"/><line x1="612" y1="510.3" x2="735" y2="524.5" stroke="#000"/><line x1="847.4" y1="419.8" x2="966.2" y2="450.2" stroke="#000"/><line x1="921.4" y1="512.3" x2="1855" y2="113.0" stroke="#000"/><line x1="1171.3" y1="376.5" x2="1666.5" y2="233.2" stroke="#000"/><line x1="1374.7" y1="318.1" x2="1605" y2="154.5" stroke="#000"/><line x1="1416.5" y1="204.4" x2="1469.4" y2="265.3" stroke="#000"/><line x1="1741" y1="313.2" x2="1803.7" y2="250.5" stroke="#000"/><line x1="35" y1="603.4" x2="532.6" y2="575.3" stroke="#0000ff"/></g>
<g fill="#000" shape-rendering="crispEdges"><rect x="38" y="568" width="1" height="8"/><path d="M37 570h4v6h-4zM38 571v4h2v-4z" fill-rule="evenodd"/><rect x="43" y="566" width="1" height="6"/><rect x="42" y="568" width="4" height="3"/><rect x="48" y="565" width="1" height="5"/><rect x="47" y="567" width="4" height="3"/><rect x="53" y="566" width="1" height="4"/><rect x="52" y="568" width="4" height="1"/><rect x="58" y="565" width="1" height="4"/><rect x="57" y="566" width="4" height="3"/><rect x="62" y="569" width="1" height="6"/><rect x="61" y="569" width="4" height="3"/><rect x="67" y="569" width="1" height="3"/><path d="M66 569h4v3h-4zM67 570v1h2v-1z" fill-rule="evenodd"/><rect x="72" y="567" width="1" height="6"/><rect x="71" y="567" width="4" height="6"/><rect x="77" y="569" width="1" height="8"/><rect x="76" y="573" width="4" height="1"/><rect x="82" y="572" width="1" height="7"/><rect x="81" y="574" width="4" height="1"/><rect x="87" y="573" width="1" height="5"/><rect x="86" y="574" width="4" height="4"/><rect x="92" y="577" width="1" height="4"/><rect x="91" y="579" width="4" height="1"/><rect x="97" y="578" width="1" height="7"/><path d="M96 580h4v4h-4zM97 581v2h2v-2z" fill-rule="evenodd"/><rect x="102" y="578" width="1" height="5"/><rect x="101" y="578" width="4" height="5"/><rect x="107" y="579" width="1" height="2"/><rect x="106" y="579" width="4" height="2"/><rect x="111" y="579" width="1" height="5"/><rect x="110" y="579" width="4" height="3"/><rect x="116" y="579" width="1" height="3"/><rect x="115" y="580" width="4" height="1"/><rect x="121" y="579" width="1" height="2"/><rect x="120" y="580" width="4" height="1"/><rect x="126" y="580" width="1" height="3"/><rect x="125" y="580" width="4" height="3"/><rect x="131" y="580" width="1" height="3"/><rect x="130" y="580" width="4" height="1"/><rect x="136" y="577" width="1" height="5"/><path d="M135 577h4v5h-4zM136 578v3h2v-3z" fill-rule="evenodd"/><rect x="141" y="577" width="1" height="3"/><rect x="140" y="577" width="4" height="1"/><rect x="146" y="577" width="1" height="3"/><rect x="145" y="577" width="4" height="3"/><rect x="151" y="577" width="1" height="3"/><path d="M150 577h4v3h-4zM151 578v1h2v-1z" fill-rule="evenodd"/><rect x="156" y="578" width="1" height="3"/><rect x="155" y="578" width="4" height="2"/><rect x="161" y="576" width="1" height="4"/><rect x="160" y="577" width="4" height="3"/><rect x="166" y="577" width="1" height="2"/><rect x="165" y="577" width="4" height="1"/><rect x="171" y="577" width="1" height="2"/><rect x="170" y="577" width="4" height="2"/><rect x="176" y="577" width="1" height="2"/><rect x="175" y="577" width="4" height="2"/><rect x="180" y="577" width="1" height="2"/><rect x="179" y="577" width="4" height="2"/><rect x="185" y="577" width="1" height="3"/><rect x="184" y="577" width="4" height="1"/><rect x="190" y="578" width="1" height="8"/><rect x="189" y="578" width="4" height="8"/><rect x="195" y="584" width="1" height="4"/><rect x="194" y="584" width="4" height="4"/><rect x="200" y="585" width="1" height="5"/><path d="M199 586h4v4h-4zM200 587v2h2v-2z" fill-rule="evenodd"/><rect x="205" y="585" width="1" height="3"/><rect x="204" y="585" width="4" height="3"/><rect x="209" y="588" width="4" height="1"/><rect x="215" y="588" width="1" height="3"/><rect x="214" y="588" width="4" height="2"/><rect x="220" y="588" width="1" height="3"/><rect x="219" y="589" width="4" height="2"/><rect x="225" y="589" width="1" height="3"/><rect x="224" y="590" width="4" height="2"/><rect x="229" y="590" width="1" height="2"/><rect x="228" y="591" width="4" height="1"/><rect x="234" y="586" width="1" height="6"/><path d="M233 587h4v5h-4zM234 588v3h2v-3z" fill-rule="evenodd"/><rect x="239" y="586" width="1" height="3"/><rect x="238" y="587" width="4" height="1"/><rect x="243" y="587" width="4" height="1"/><rect x="249" y="582" width="1" height="7"/><path d="M248 582h4v7h-4zM249 583v5h2v-5z" fill-rule="evenodd"/><rect x="253" y="584" width="1" height="2"/><rect x="252" y="584" width="4" height="2"/><rect x="257" y="585" width="4" height="1"/><rect x="263" y="585" width="1" height="2"/><rect x="262" y="585" width="4" height="2"/><rect x="268" y="584" width="1" height="2"/><rect x="267" y="584" width="4" height="1"/><rect x="273" y="584" width="1" height="2"/><rect x="272" y="584" width="4" height="1"/><rect x="277" y="584" width="4" height="1"/><rect x="283" y="584" width="1" height="3"/><rect x="282" y="585" width="4" height="2"/><rect x="288" y="586" width="1" height="2"/><rect x="287" y="586" width="4" height="2"/><rect x="293" y="584" width="1" height="4"/><path d="M292 585h4v3h-4zM293 586v1h2v-1z" fill-rule="evenodd"/><rect x="298" y="585" width="1" height="4"/><rect x="297" y="585" width="4" height="4"/><rect x="303" y="585" width="1" height="4"/><path d="M302 585h4v4h-4zM303 586v2h2v-2z" fill-rule="evenodd"/><rect x="308" y="583" width="1" height="3"/><rect x="307" y="583" width="4" height="3"/><rect x="313" y="584" width="1" height="2"/><rect x="312" y="584" width="4" height="1"/><rect x="318" y="582" width="1" height="4"/><path d="M317 582h4v4h-4zM318 583v2h2v-2z" fill-rule="evenodd"/><rect x="322" y="581" width="1" height="3"/><rect x="321" y="581" width="4" height="3"/><rect x="327" y="582" width="1" height="2"/><rect x="326" y="582" width="4" height="1"/><rect x="332" y="580" width="1" height="4"/><rect x="331" y="581" width="4" height="2"/><rect x="337" y="581" width="1" height="3"/><rect x="336" y="581" width="4" height="1"/><rect x="342" y="581" width="1" height="3"/><rect x="341" y="581" width="4" height="3"/><rect x="347" y="578" width="1" height="6"/><path d="M346 580h4v4h-4zM347 581v2h2v-2z" fill-rule="evenodd"/><rect x="352" y="579" width="1" height="2"/><rect x="351" y="579" width="4" height="2"/><rect x="357" y="579" width="1" height="2"/><rect x="356" y="579" width="4" height="2"/><rect x="362" y="578" width="1" height="3"/><path d="M361 578h4v3h-4zM362 579v1h2v-1z" fill-rule="evenodd"/><rect x="367" y="575" width="1" height="9"/><rect x="366" y="577" width="4" height="7"/><rect x="371" y="581" width="1" height="3"/><rect x="370" y="582" width="4" height="1"/><rect x="376" y="580" width="1" height="4"/><path d="M375 580h4v4h-4zM376 581v2h2v-2z" fill-rule="evenodd"/><rect x="381" y="580" width="1" height="2"/><rect x="380" y="580" width="4" height="2"/><rect x="386" y="580" width="1" height="2"/><rect x="385" y="580" width="4" height="2"/><rect x="391" y="580" width="1" height="2"/><rect x="390" y="580" width="4" height="2"/><rect x="396" y="574" width="1" height="10"/><path d="M395 575h4v8h-4zM396 576v6h2v-6z" fill-rule="evenodd"/><rect x="401" y="571" width="1" height="5"/><path d="M400 572h4v4h-4zM401 573v2h2v-2z" fill-rule="evenodd"/><rect x="406" y="572" width="1" height="3"/><rect x="405" y="572" width="4" height="3"/><rect x="411" y="574" width="1" height="3"/><rect x="410" y="574" width="4" height="2"/><rect x="416" y="572" width="1" height="4"/><rect x="415" y="574" width="4" height="1"/><rect x="421" y="569" width="1" height="6"/><path d="M420 569h4v6h-4zM421 570v4h2v-4z" fill-rule="evenodd"/><rect x="426" y="569" width="1" height="4"/><rect x="425" y="569" width="4" height="1"/><rect x="431" y="560" width="1" height="10"/><path d="M430 560h4v10h-4zM431 561v8h2v-8z" fill-rule="evenodd"/><rect x="436" y="559" width="1" height="7"/><rect x="435" y="560" width="4" height="3"/><rect x="441" y="560" width="1" height="7"/><rect x="440" y="562" width="4" height="3"/><rect x="445" y="562" width="1" height="5"/><rect x="444" y="562" width="4" height="4"/><rect x="450" y="559" width="1" height="7"/><rect x="449" y="561" width="4" height="1"/><rect x="455" y="561" width="1" height="4"/><rect x="454" y="561" width="4" height="4"/><rect x="460" y="563" width="1" height="3"/><rect x="459" y="563" width="4" height="3"/><rect x="465" y="559" width="1" height="6"/><rect x="464" y="563" width="4" height="1"/><rect x="469" y="563" width="4" height="1"/><rect x="475" y="562" width="1" height="3"/><rect x="474" y="562" width="4" height="1"/><rect x="480" y="561" width="1" height="2"/><rect x="479" y="561" width="4" height="1"/><rect x="485" y="561" width="1" height="2"/><rect x="484" y="561" width="4" height="1"/><rect x="490" y="561" width="1" height="2"/><rect x="489" y="561" width="4" height="1"/><rect x="494" y="559" width="1" height="6"/><path d="M493 559h4v6h-4zM494 560v4h2v-4z" fill-rule="evenodd"/><rect x="499" y="555" width="1" height="7"/><path d="M498 556h4v6h-4zM499 557v4h2v-4z" fill-rule="evenodd"/><rect x="504" y="555" width="1" height="5"/><rect x="503" y="557" width="4" height="1"/><rect x="509" y="556" width="1" height="3"/><rect x="508" y="556" width="4" height="3"/><rect x="514" y="551" width="1" height="6"/><path d="M513 553h4v4h-4zM514 554v2h2v-2z" fill-rule="evenodd"/><rect x="518" y="540" width="1" height="14"/><path d="M517 540h4v14h-4zM518 541v12h2v-12z" fill-rule="evenodd"/><rect x="523" y="539" width="1" height="4"/><rect x="522" y="540" width="4" height="3"/><rect x="528" y="538" width="1" height="6"/><rect x="527" y="539" width="4" height="1"/><rect x="533" y="539" width="1" height="3"/><rect x="532" y="539" width="4" height="3"/><rect x="538" y="537" width="1" height="4"/><path d="M537 537h4v4h-4zM538 538v2h2v-2z" fill-rule="evenodd"/><rect x="543" y="536" width="1" height="5"/><rect x="542" y="536" width="4" height="5"/><rect x="548" y="536" width="1" height="3"/><rect x="547" y="538" width="4" height="2"/><rect x="552" y="537" width="4" height="1"/><rect x="557" y="537" width="4" height="1"/><rect x="563" y="535" width="1" height="5"/><path d="M562 535h4v5h-4zM563 536v3h2v-3z" fill-rule="evenodd"/><rect x="567" y="535" width="1" height="5"/><rect x="566" y="536" width="4" height="2"/><rect x="572" y="535" width="1" height="4"/><path d="M571 535h4v4h-4zM572 536v2h2v-2z" fill-rule="evenodd"/><rect x="577" y="534" width="1" height="3"/><rect x="576" y="536" width="4" height="1"/><rect x="582" y="533" width="1" height="4"/><rect x="581" y="535" width="4" height="1"/><rect x="587" y="533" width="1" height="6"/><rect x="586" y="534" width="4" height="2"/><rect x="592" y="533" width="1" height="3"/><rect x="591" y="533" width="4" height="2"/><rect x="597" y="532" width="1" height="5"/><rect x="596" y="533" width="4" height="1"/><rect x="602" y="531" width="1" height="5"/><path d="M601 531h4v3h-4zM602 532v1h2v-1z" fill-rule="evenodd"/><rect x="607" y="523" width="1" height="7"/><path d="M606 523h4v7h-4zM607 524v5h2v-5z" fill-rule="evenodd"/><rect x="612" y="516" width="1" height="8"/><path d="M611 517h4v7h-4zM612 518v5h2v-5z" fill-rule="evenodd"/><rect x="615" y="517" width="4" height="2"/><rect x="621" y="511" width="1" height="8"/><rect x="620" y="517" width="4" height="2"/><rect x="626" y="515" width="1" height="15"/><rect x="625" y="518" width="4" height="5"/><rect x="631" y="519" width="1" height="7"/><rect x="630" y="519" width="4" height="2"/><rect x="636" y="519" width="1" height="7"/><rect x="635" y="521" width="4" height="1"/><rect x="641" y="520" width="1" height="6"/><rect x="640" y="522" width="4" height="1"/><rect x="646" y="519" width="1" height="5"/><rect x="645" y="522" width="4" height="1"/><rect x="651" y="522" width="1" height="5"/><rect x="650" y="522" width="4" height="5"/><rect x="656" y="524" width="1" height="4"/><path d="M655 524h4v3h-4zM656 525v1h2v-1z" fill-rule="evenodd"/><rect x="661" y="522" width="1" height="4"/><rect x="660" y="522" width="4" height="2"/><rect x="666" y="520" width="1" height="5"/><rect x="665" y="521" width="4" height="2"/><rect x="671" y="520" width="1" height="6"/><rect x="670" y="520" width="4" height="6"/><rect x="676" y="520" width="1" height="8"/><path d="M675 520h4v6h-4zM676 521v4h2v-4z" fill-rule="evenodd"/><rect x="681" y="521" width="1" height="5"/><rect x="680" y="521" width="4" height="5"/><rect x="686" y="522" width="1" height="4"/><rect x="685" y="524" width="4" height="2"/><rect x="690" y="518" width="1" height="5"/><rect x="689" y="521" width="4" height="2"/><rect x="695" y="519" width="1" height="3"/><rect x="694" y="520" width="4" height="1"/><rect x="700" y="516" width="1" height="8"/><path d="M699 516h4v8h-4zM700 517v6h2v-6z" fill-rule="evenodd"/><rect x="705" y="515" width="1" height="5"/><rect x="704" y="515" width="4" height="5"/><rect x="710" y="507" width="1" height="12"/><rect x="709" y="510" width="4" height="9"/><rect x="715" y="518" width="1" height="6"/><rect x="714" y="518" width="4" height="6"/><rect x="720" y="522" width="1" height="5"/><rect x="719" y="524" width="4" height="1"/><rect x="725" y="522" width="1" height="5"/><rect x="724" y="524" width="4" height="1"/><rect x="730" y="522" width="1" height="4"/><rect x="729" y="524" width="4" height="1"/><rect x="735" y="521" width="1" height="3"/><rect x="734" y="521" width="4" height="3"/><rect x="739" y="508" width="1" height="14"/><path d="M738 508h4v14h-4zM739 509v12h2v-12z" fill-rule="evenodd"/><rect x="744" y="507" width="1" height="4"/><rect x="743" y="508" width="4" height="3"/><rect x="749" y="498" width="1" height="9"/><path d="M748 498h4v8h-4zM749 499v6h2v-6z" fill-rule="evenodd"/><rect x="754" y="489" width="1" height="9"/><path d="M753 493h4v3h-4zM754 494v1h2v-1z" fill-rule="evenodd"/><rect x="759" y="484" width="1" height="8"/><path d="M758 487h4v3h-4zM759 488v1h2v-1z" fill-rule="evenodd"/><rect x="764" y="484" width="1" height="9"/><rect x="763" y="489" width="4" height="4"/><rect x="769" y="482" width="1" height="8"/><path d="M768 485h4v5h-4zM769 486v3h2v-3z" fill-rule="evenodd"/><rect x="774" y="481" width="1" height="8"/><rect x="773" y="484" width="4" height="1"/><rect x="779" y="471" width="1" height="13"/><path d="M778 473h4v11h-4zM779 474v9h2v-9z" fill-rule="evenodd"/><rect x="784" y="469" width="1" height="6"/><rect x="783" y="469" width="4" height="1"/><rect x="788" y="464" width="1" height="9"/><path d="M787 467h4v6h-4zM788 468v4h2v-4z" fill-rule="evenodd"/><rect x="793" y="468" width="1" height="8"/><rect x="792" y="468" width="4" height="8"/><rect x="798" y="454" width="1" height="13"/><rect x="797" y="464" width="4" height="1"/><rect x="803" y="461" width="1" height="11"/><rect x="802" y="461" width="4" height="9"/><rect x="808" y="456" width="1" height="13"/><path d="M807 461h4v5h-4zM808 462v3h2v-3z" fill-rule="evenodd"/><rect x="812" y="451" width="1" height="13"/><rect x="811" y="456" width="4" height="6"/><rect x="817" y="462" width="1" height="26"/><rect x="816" y="464" width="4" height="7"/><rect x="822" y="469" width="1" height="5"/><rect x="821" y="469" width="4" height="5"/><rect x="827" y="469" width="1" height="5"/><path d="M826 469h4v5h-4zM827 470v3h2v-3z" fill-rule="evenodd"/><rect x="832" y="467" width="1" height="12"/><rect x="831" y="467" width="4" height="1"/><rect x="837" y="465" width="1" height="7"/><rect x="836" y="467" width="4" height="1"/><rect x="842" y="443" width="1" height="24"/><path d="M841 443h4v24h-4zM842 444v22h2v-22z" fill-rule="evenodd"/><rect x="847" y="433" width="1" height="14"/><rect x="846" y="440" width="4" height="1"/><rect x="852" y="433" width="1" height="11"/><path d="M851 433h4v6h-4zM852 434v4h2v-4z" fill-rule="evenodd"/><rect x="857" y="422" width="1" height="14"/><path d="M856 426h4v8h-4zM857 427v6h2v-6z" fill-rule="evenodd"/><rect x="862" y="424" width="1" height="16"/><rect x="861" y="424" width="4" height="10"/><rect x="867" y="432" width="1" height="12"/><rect x="866" y="435" width="4" height="1"/><rect x="872" y="436" width="1" height="9"/><rect x="871" y="436" width="4" height="9"/><rect x="877" y="445" width="1" height="19"/><rect x="876" y="445" width="4" height="15"/><rect x="882" y="452" width="1" height="7"/><path d="M881 455h4v4h-4zM882 456v2h2v-2z" fill-rule="evenodd"/><rect x="887" y="457" width="1" height="4"/><path d="M886 457h4v4h-4zM887 458v2h2v-2z" fill-rule="evenodd"/><rect x="892" y="458" width="1" height="6"/><rect x="891" y="461" width="4" height="3"/><rect x="897" y="451" width="1" height="14"/><path d="M896 454h4v11h-4zM897 455v9h2v-9z" fill-rule="evenodd"/><rect x="901" y="448" width="1" height="10"/><rect x="900" y="453" width="4" height="1"/><rect x="906" y="452" width="1" height="8"/><rect x="905" y="453" width="4" height="1"/><rect x="911" y="452" width="1" height="9"/><rect x="910" y="456" width="4" height="3"/><rect x="916" y="457" width="1" height="24"/><rect x="915" y="460" width="4" height="14"/><rect x="921" y="473" width="1" height="40"/><path d="M920 481h4v27h-4zM921 482v25h2v-25z" fill-rule="evenodd"/><rect x="926" y="464" width="1" height="15"/><path d="M925 467h4v10h-4zM926 468v8h2v-8z" fill-rule="evenodd"/><rect x="931" y="468" width="1" height="8"/><path d="M930 471h4v4h-4zM931 472v2h2v-2z" fill-rule="evenodd"/><rect x="935" y="444" width="1" height="25"/><rect x="934" y="444" width="4" height="21"/><rect x="940" y="460" width="1" height="10"/><rect x="939" y="463" width="4" height="1"/><rect x="945" y="458" width="1" height="6"/><path d="M944 458h4v3h-4zM945 459v1h2v-1z" fill-rule="evenodd"/><rect x="950" y="450" width="1" height="8"/><path d="M949 450h4v8h-4zM950 451v6h2v-6z" fill-rule="evenodd"/><rect x="955" y="452" width="1" height="5"/><rect x="954" y="452" width="4" height="1"/><rect x="960" y="452" width="1" height="6"/><rect x="959" y="452" width="4" height="1"/><rect x="965" y="447" width="1" height="8"/><rect x="964" y="450" width="4" height="1"/><rect x="970" y="448" width="1" height="12"/><rect x="969" y="448" width="4" height="7"/><rect x="975" y="445" width="1" height="13"/><path d="M974 445h4v8h-4zM975 446v6h2v-6z" fill-rule="evenodd"/><rect x="980" y="434" width="1" height="10"/><path d="M979 434h4v10h-4zM980 435v8h2v-8z" fill-rule="evenodd"/><rect x="985" y="430" width="1" height="7"/><rect x="984" y="432" width="4" height="1"/><rect x="990" y="425" width="1" height="8"/><path d="M989 425h4v8h-4zM990 426v6h2v-6z" fill-rule="evenodd"/><rect x="994" y="420" width="1" height="10"/><rect x="993" y="422" width="4" height="8"/><rect x="999" y="418" width="1" height="10"/><path d="M998 418h4v7h-4zM999 419v5h2v-5z" fill-rule="evenodd"/><rect x="1005" y="412" width="1" height="7"/><path d="M1004 412h4v7h-4zM1005 413v5h2v-5z" fill-rule="evenodd"/><rect x="1010" y="407" width="1" height="14"/><rect x="1009" y="407" width="4" height="6"/><rect x="1015" y="408" width="1" height="7"/><rect x="1014" y="412" width="4" height="3"/><rect x="1020" y="408" width="1" height="7"/><path d="M1019 409h4v6h-4zM1020 410v4h2v-4z" fill-rule="evenodd"/><rect x="1025" y="401" width="1" height="9"/><rect x="1024" y="406" width="4" height="2"/><rect x="1030" y="406" width="1" height="27"/><rect x="1029" y="409" width="4" height="19"/><rect x="1035" y="424" width="1" height="7"/><rect x="1034" y="424" width="4" height="7"/><rect x="1039" y="424" width="1" height="9"/><path d="M1038 424h4v9h-4zM1039 425v7h2v-7z" fill-rule="evenodd"/><rect x="1044" y="417" width="1" height="10"/><path d="M1043 420h4v5h-4zM1044 421v3h2v-3z" fill-rule="evenodd"/><rect x="1048" y="414" width="1" height="7"/><path d="M1047 414h4v5h-4zM1048 415v3h2v-3z" fill-rule="evenodd"/><rect x="1053" y="402" width="1" height="13"/><path d="M1052 402h4v13h-4zM1053 403v11h2v-11z" fill-rule="evenodd"/><rect x="1058" y="361" width="1" height="39"/><path d="M1057 368h4v28h-4zM1058 369v26h2v-26z" fill-rule="evenodd"/><rect x="1063" y="354" width="1" height="15"/><path d="M1062 356h4v6h-4zM1063 357v4h2v-4z" fill-rule="evenodd"/><rect x="1067" y="341" width="1" height="15"/><rect x="1066" y="343" width="4" height="1"/><rect x="1072" y="338" width="1" height="18"/><rect x="1071" y="341" width="4" height="9"/><rect x="1077" y="329" width="1" height="18"/><path d="M1076 334h4v13h-4zM1077 335v11h2v-11z" fill-rule="evenodd"/><rect x="1082" y="309" width="1" height="26"/><path d="M1081 314h4v17h-4zM1082 315v15h2v-15z" fill-rule="evenodd"/><rect x="1087" y="305" width="1" height="17"/><rect x="1086" y="313" width="4" height="2"/><rect x="1092" y="312" width="1" height="18"/><rect x="1091" y="312" width="4" height="18"/><rect x="1097" y="321" width="1" height="11"/><path d="M1096 327h4v4h-4zM1097 328v2h2v-2z" fill-rule="evenodd"/><rect x="1102" y="322" width="1" height="13"/><rect x="1101" y="324" width="4" height="7"/><rect x="1107" y="323" width="1" height="16"/><path d="M1106 325h4v5h-4zM1107 326v3h2v-3z" fill-rule="evenodd"/><rect x="1112" y="324" width="1" height="13"/><rect x="1111" y="325" width="4" height="12"/><rect x="1117" y="313" width="1" height="23"/><path d="M1116 318h4v18h-4zM1117 319v16h2v-16z" fill-rule="evenodd"/><rect x="1122" y="317" width="1" height="20"/><rect x="1121" y="318" width="4" height="19"/><rect x="1127" y="335" width="1" height="11"/><rect x="1126" y="336" width="4" height="8"/><rect x="1132" y="340" width="1" height="16"/><rect x="1131" y="346" width="4" height="10"/><rect x="1137" y="345" width="1" height="15"/><path d="M1136 349h4v11h-4zM1137 350v9h2v-9z" fill-rule="evenodd"/><rect x="1141" y="341" width="1" height="18"/><rect x="1140" y="351" width="4" height="5"/><rect x="1146" y="351" width="1" height="11"/><path d="M1145 355h4v4h-4zM1146 356v2h2v-2z" fill-rule="evenodd"/><rect x="1151" y="347" width="1" height="12"/><path d="M1150 353h4v3h-4zM1151 354v1h2v-1z" fill-rule="evenodd"/><rect x="1156" y="353" width="1" height="13"/><rect x="1155" y="356" width="4" height="1"/><rect x="1161" y="355" width="1" height="7"/><rect x="1160" y="359" width="4" height="3"/><rect x="1166" y="359" width="1" height="12"/><rect x="1165" y="363" width="4" height="5"/><rect x="1171" y="358" width="1" height="10"/><path d="M1170 358h4v10h-4zM1171 359v8h2v-8z" fill-rule="evenodd"/><rect x="1176" y="361" width="1" height="13"/><rect x="1175" y="361" width="4" height="7"/><rect x="1181" y="361" width="1" height="14"/><rect x="1180" y="364" width="4" height="5"/><rect x="1185" y="356" width="1" height="12"/><path d="M1184 358h4v10h-4zM1185 359v8h2v-8z" fill-rule="evenodd"/><rect x="1190" y="326" width="1" height="30"/><path d="M1189 329h4v26h-4zM1190 330v24h2v-24z" fill-rule="evenodd"/><rect x="1195" y="322" width="1" height="20"/><rect x="1194" y="322" width="4" height="9"/><rect x="1200" y="312" width="1" height="16"/><path d="M1199 312h4v10h-4zM1200 313v8h2v-8z" fill-rule="evenodd"/><rect x="1205" y="314" width="1" height="22"/><rect x="1204" y="315" width="4" height="21"/><rect x="1210" y="327" width="1" height="13"/><path d="M1209 327h4v9h-4zM1210 328v7h2v-7z" fill-rule="evenodd"/><rect x="1215" y="316" width="1" height="16"/><path d="M1214 316h4v12h-4zM1215 317v10h2v-10z" fill-rule="evenodd"/><rect x="1220" y="310" width="1" height="14"/><path d="M1219 315h4v6h-4zM1220 316v4h2v-4z" fill-rule="evenodd"/><rect x="1225" y="311" width="1" height="8"/><path d="M1224 315h4v3h-4zM1225 316v1h2v-1z" fill-rule="evenodd"/><rect x="1230" y="305" width="1" height="9"/><path d="M1229 307h4v7h-4zM1230 308v5h2v-5z" fill-rule="evenodd"/><rect x="1235" y="300" width="1" height="13"/><rect x="1234" y="305" width="4" height="8"/><rect x="1239" y="308" width="1" height="17"/><rect x="1238" y="308" width="4" height="11"/><rect x="1244" y="309" width="1" height="15"/><path d="M1243 309h4v15h-4zM1244 310v13h2v-13z" fill-rule="evenodd"/><rect x="1249" y="301" width="1" height="21"/><path d="M1248 301h4v15h-4zM1249 302v13h2v-13z" fill-rule="evenodd"/><rect x="1254" y="297" width="1" height="16"/><rect x="1253" y="297" width="4" height="8"/><rect x="1259" y="297" width="1" height="17"/><rect x="1258" y="303" width="4" height="11"/><rect x="1264" y="308" width="1" height="9"/><path d="M1263 312h4v3h-4zM1264 313v1h2v-1z" fill-rule="evenodd"/><rect x="1269" y="306" width="1" height="8"/><path d="M1268 308h4v5h-4zM1269 309v3h2v-3z" fill-rule="evenodd"/><rect x="1274" y="305" width="1" height="13"/><rect x="1273" y="310" width="4" height="1"/><rect x="1279" y="303" width="1" height="13"/><path d="M1278 303h4v11h-4zM1279 304v9h2v-9z" fill-rule="evenodd"/><rect x="1284" y="289" width="1" height="22"/><path d="M1283 289h4v18h-4zM1284 290v16h2v-16z" fill-rule="evenodd"/><rect x="1288" y="281" width="1" height="21"/><rect x="1287" y="286" width="4" height="16"/><rect x="1293" y="296" width="1" height="15"/><rect x="1292" y="299" width="4" height="10"/><rect x="1298" y="307" width="1" height="17"/><rect x="1297" y="308" width="4" height="11"/><rect x="1303" y="311" width="1" height="9"/><path d="M1302 315h4v3h-4zM1303 316v1h2v-1z" fill-rule="evenodd"/><rect x="1308" y="300" width="1" height="23"/><path d="M1307 302h4v18h-4zM1308 303v16h2v-16z" fill-rule="evenodd"/><rect x="1313" y="292" width="1" height="23"/><rect x="1312" y="297" width="4" height="1"/><rect x="1318" y="296" width="1" height="29"/><rect x="1317" y="300" width="4" height="20"/><rect x="1322" y="296" width="1" height="23"/><path d="M1321 302h4v15h-4zM1322 303v13h2v-13z" fill-rule="evenodd"/><rect x="1327" y="285" width="1" height="19"/><path d="M1326 285h4v15h-4zM1327 286v13h2v-13z" fill-rule="evenodd"/><rect x="1332" y="276" width="1" height="17"/><rect x="1331" y="282" width="4" height="5"/><rect x="1337" y="288" width="1" height="23"/><rect x="1336" y="288" width="4" height="19"/><rect x="1342" y="290" width="1" height="21"/><path d="M1341 303h4v4h-4zM1342 304v2h2v-2z" fill-rule="evenodd"/><rect x="1347" y="302" width="1" height="13"/><path d="M1346 302h4v8h-4zM1347 303v6h2v-6z" fill-rule="evenodd"/><rect x="1352" y="295" width="1" height="11"/><path d="M1351 297h4v3h-4zM1352 298v1h2v-1z" fill-rule="evenodd"/><rect x="1357" y="264" width="1" height="29"/><path d="M1356 269h4v24h-4zM1357 270v22h2v-22z" fill-rule="evenodd"/><rect x="1362" y="264" width="1" height="19"/><rect x="1361" y="270" width="4" height="11"/><rect x="1367" y="261" width="1" height="15"/><path d="M1366 265h4v11h-4zM1367 266v9h2v-9z" fill-rule="evenodd"/><rect x="1372" y="269" width="1" height="40"/><rect x="1371" y="270" width="4" height="39"/><rect x="1377" y="307" width="1" height="11"/><path d="M1376 307h4v7h-4zM1377 308v5h2v-5z" fill-rule="evenodd"/><rect x="1381" y="295" width="1" height="12"/><path d="M1380 299h4v8h-4zM1381 300v6h2v-6z" fill-rule="evenodd"/><rect x="1386" y="284" width="1" height="15"/><path d="M1385 287h4v12h-4zM1386 288v10h2v-10z" fill-rule="evenodd"/><rect x="1391" y="272" width="1" height="18"/><path d="M1390 275h4v15h-4zM1391 276v13h2v-13z" fill-rule="evenodd"/><rect x="1396" y="261" width="1" height="21"/><path d="M1395 261h4v16h-4zM1396 262v14h2v-14z" fill-rule="evenodd"/><rect x="1401" y="251" width="1" height="18"/><path d="M1400 255h4v7h-4zM1401 256v5h2v-5z" fill-rule="evenodd"/><rect x="1406" y="240" width="1" height="19"/><path d="M1405 241h4v11h-4zM1406 242v9h2v-9z" fill-rule="evenodd"/><rect x="1411" y="209" width="1" height="29"/><path d="M1410 218h4v18h-4zM1411 219v16h2v-16z" fill-rule="evenodd"/><rect x="1416" y="208" width="1" height="19"/><path d="M1415 218h4v9h-4zM1416 219v7h2v-7z" fill-rule="evenodd"/><rect x="1421" y="215" width="1" height="40"/><rect x="1420" y="218" width="4" height="20"/><rect x="1426" y="225" width="1" height="27"/><rect x="1425" y="230" width="4" height="22"/><rect x="1430" y="250" width="1" height="14"/><rect x="1429" y="250" width="4" height="1"/><rect x="1435" y="245" width="1" height="16"/><rect x="1434" y="248" width="4" height="7"/><rect x="1440" y="241" width="1" height="13"/><path d="M1439 248h4v3h-4zM1440 249v1h2v-1z" fill-rule="evenodd"/><rect x="1445" y="251" width="1" height="10"/><rect x="1444" y="251" width="4" height="3"/><rect x="1450" y="244" width="1" height="14"/><path d="M1449 245h4v5h-4zM1450 246v3h2v-3z" fill-rule="evenodd"/><rect x="1455" y="233" width="1" height="14"/><path d="M1454 233h4v9h-4zM1455 234v7h2v-7z" fill-rule="evenodd"/><rect x="1460" y="224" width="1" height="16"/><rect x="1459" y="229" width="4" height="7"/><rect x="1465" y="223" width="1" height="10"/><path d="M1464 223h4v10h-4zM1465 224v8h2v-8z" fill-rule="evenodd"/><rect x="1470" y="216" width="1" height="15"/><path d="M1469 220h4v6h-4zM1470 221v4h2v-4z" fill-rule="evenodd"/><rect x="1475" y="211" width="1" height="24"/><rect x="1474" y="218" width="4" height="17"/><rect x="1479" y="221" width="1" height="12"/><rect x="1478" y="228" width="4" height="1"/><rect x="1484" y="225" width="1" height="9"/><rect x="1483" y="228" width="4" height="6"/><rect x="1489" y="208" width="1" height="26"/><path d="M1488 208h4v26h-4zM1489 209v24h2v-24z" fill-rule="evenodd"/><rect x="1494" y="206" width="1" height="18"/><rect x="1493" y="206" width="4" height="11"/><rect x="1499" y="188" width="1" height="28"/><path d="M1498 193h4v20h-4zM1499 194v18h2v-18z" fill-rule="evenodd"/><rect x="1504" y="192" width="1" height="18"/><rect x="1503" y="197" width="4" height="5"/><rect x="1509" y="192" width="1" height="16"/><path d="M1508 195h4v6h-4zM1509 196v4h2v-4z" fill-rule="evenodd"/><rect x="1514" y="165" width="1" height="27"/><path d="M1513 169h4v11h-4zM1514 170v9h2v-9z" fill-rule="evenodd"/><rect x="1519" y="161" width="1" height="18"/><rect x="1518" y="163" width="4" height="9"/><rect x="1524" y="167" width="1" height="26"/><rect x="1523" y="169" width="4" height="9"/><rect x="1529" y="111" width="1" height="66"/><path d="M1528 111h4v64h-4zM1529 112v62h2v-62z" fill-rule="evenodd"/><rect x="1534" y="72" width="1" height="36"/><path d="M1533 83h4v16h-4zM1534 84v14h2v-14z" fill-rule="evenodd"/><rect x="1539" y="66" width="1" height="24"/><rect x="1538" y="72" width="4" height="8"/><rect x="1544" y="66" width="1" height="24"/><path d="M1543 77h4v4h-4zM1544 78v2h2v-2z" fill-rule="evenodd"/><rect x="1549" y="54" width="1" height="23"/><path d="M1548 70h4v3h-4zM1549 71v1h2v-1z" fill-rule="evenodd"/><rect x="1553" y="65" width="1" height="23"/><path d="M1552 65h4v9h-4zM1553 66v7h2v-7z" fill-rule="evenodd"/><rect x="1558" y="68" width="1" height="41"/><rect x="1557" y="74" width="4" height="16"/><rect x="1563" y="86" width="1" height="28"/><rect x="1562" y="88" width="4" height="15"/><rect x="1568" y="104" width="1" height="30"/><rect x="1567" y="109" width="4" height="6"/><rect x="1572" y="109" width="1" height="52"/><rect x="1571" y="109" width="4" height="51"/><rect x="1577" y="147" width="1" height="30"/><path d="M1576 151h4v12h-4zM1577 152v10h2v-10z" fill-rule="evenodd"/><rect x="1582" y="162" width="1" height="22"/><rect x="1581" y="170" width="4" height="9"/><rect x="1587" y="151" width="1" height="19"/><rect x="1586" y="163" width="4" height="1"/><rect x="1592" y="150" width="1" height="22"/><rect x="1591" y="160" width="4" height="5"/><rect x="1597" y="142" width="1" height="25"/><path d="M1596 160h4v7h-4zM1597 161v5h2v-5z" fill-rule="evenodd"/><rect x="1602" y="142" width="1" height="18"/><rect x="1601" y="153" width="4" height="3"/><rect x="1607" y="144" width="1" height="19"/><rect x="1606" y="149" width="4" height="7"/><rect x="1612" y="141" width="1" height="22"/><rect x="1611" y="151" width="4" height="10"/><rect x="1617" y="157" width="1" height="18"/><rect x="1616" y="162" width="4" height="4"/><rect x="1621" y="161" width="1" height="23"/><rect x="1620" y="168" width="4" height="5"/><rect x="1626" y="167" width="1" height="15"/><path d="M1625 167h4v6h-4zM1626 168v4h2v-4z" fill-rule="evenodd"/><rect x="1631" y="162" width="1" height="12"/><rect x="1630" y="165" width="4" height="9"/><rect x="1636" y="163" width="1" height="15"/><path d="M1635 169h4v3h-4zM1636 170v1h2v-1z" fill-rule="evenodd"/><rect x="1641" y="175" width="1" height="17"/><rect x="1640" y="177" width="4" height="10"/><rect x="1646" y="186" width="1" height="19"/><rect x="1645" y="188" width="4" height="13"/><rect x="1651" y="197" width="1" height="26"/><rect x="1650" y="197" width="4" height="16"/><rect x="1656" y="209" width="1" height="14"/><path d="M1655 216h4v3h-4zM1656 217v1h2v-1z" fill-rule="evenodd"/><rect x="1661" y="198" width="1" height="13"/><rect x="1660" y="202" width="4" height="9"/><rect x="1666" y="210" width="1" height="24"/><rect x="1665" y="212" width="4" height="10"/><rect x="1671" y="215" width="1" height="40"/><rect x="1670" y="227" width="4" height="26"/><rect x="1676" y="226" width="1" height="23"/><path d="M1675 241h4v7h-4zM1676 242v5h2v-5z" fill-rule="evenodd"/><rect x="1681" y="240" width="1" height="22"/><rect x="1680" y="240" width="4" height="13"/><rect x="1686" y="249" width="1" height="10"/><path d="M1685 251h4v4h-4zM1686 252v2h2v-2z" fill-rule="evenodd"/><rect x="1691" y="247" width="1" height="26"/><path d="M1690 257h4v6h-4zM1691 258v4h2v-4z" fill-rule="evenodd"/><rect x="1696" y="248" width="1" height="16"/><rect x="1695" y="258" width="4" height="1"/><rect x="1700" y="247" width="1" height="13"/><rect x="1699" y="253" width="4" height="6"/><rect x="1705" y="267" width="1" height="16"/><rect x="1704" y="271" width="4" height="4"/><rect x="1710" y="271" width="1" height="12"/><rect x="1709" y="274" width="4" height="5"/><rect x="1715" y="278" width="1" height="15"/><rect x="1714" y="282" width="4" height="1"/><rect x="1720" y="278" width="1" height="26"/><rect x="1719" y="286" width="4" height="1"/><rect x="1725" y="282" width="1" height="12"/><rect x="1724" y="284" width="4" height="9"/><rect x="1730" y="290" width="1" height="8"/><rect x="1729" y="290" width="4" height="8"/><rect x="1735" y="296" width="1" height="15"/><rect x="1734" y="299" width="4" height="7"/><rect x="1740" y="298" width="1" height="15"/><path d="M1739 302h4v6h-4zM1740 303v4h2v-4z" fill-rule="evenodd"/><rect x="1745" y="292" width="1" height="15"/><rect x="1744" y="293" width="4" height="14"/><rect x="1750" y="289" width="1" height="11"/><path d="M1749 292h4v6h-4zM1750 293v4h2v-4z" fill-rule="evenodd"/><rect x="1754" y="270" width="1" height="20"/><path d="M1753 282h4v7h-4zM1754 283v5h2v-5z" fill-rule="evenodd"/><rect x="1759" y="262" width="1" height="14"/><path d="M1758 264h4v10h-4zM1759 265v8h2v-8z" fill-rule="evenodd"/><rect x="1764" y="246" width="1" height="16"/><path d="M1763 248h4v14h-4zM1764 249v12h2v-12z" fill-rule="evenodd"/><rect x="1769" y="250" width="1" height="20"/><rect x="1768" y="250" width="4" height="15"/><rect x="1774" y="262" width="1" height="8"/><rect x="1773" y="263" width="4" height="1"/><rect x="1779" y="257" width="1" height="9"/><rect x="1778" y="262" width="4" height="4"/><rect x="1784" y="263" width="1" height="10"/><path d="M1783 263h4v3h-4zM1784 264v1h2v-1z" fill-rule="evenodd"/><rect x="1789" y="275" width="1" height="31"/><rect x="1788" y="275" width="4" height="28"/><rect x="1794" y="296" width="1" height="38"/><rect x="1793" y="302" width="4" height="28"/><rect x="1799" y="323" width="1" height="7"/><rect x="1798" y="326" width="4" height="2"/></g>
<path d="M38.5 711V880 M43.5 771V880 M48.5 799V880 M53.5 776V880 M58.5 794V880 M62.5 801V880 M67.5 839V880 M72.5 858V880 M77.5 798V880 M82.5 801V880 M87.5 819V880 M92.5 849V880 M97.5 825V880 M102.5 855V880 M107.5 862V880 M111.5 865V880 M116.5 865V880 M121.5 871V880 M126.5 865V880 M131.5 873V880 M136.5 858V880 M141.5 869V880 M146.5 867V880 M151.5 875V880 M156.5 873V880 M161.5 868V880 M166.5 879V880 M171.5 876V880 M176.5 858V880 M180.5 862V880 M185.5 864V880 M190.5 786V880 M195.5 847V880 M200.5 862V880 M205.5 873V880 M210.5 852V880 M215.5 868V880 M220.5 862V880 M225.5 856V880 M229.5 867V880 M234.5 858V880 M239.5 864V880 M244.5 876V880 M249.5 838V880 M253.5 869V880 M258.5 879V880 M263.5 871V880 M268.5 872V880 M273.5 871V880 M278.5 874V880 M283.5 866V880 M288.5 874V880 M293.5 869V880 M298.5 870V880 M303.5 872V880 M308.5 874V880 M313.5 870V880 M318.5 849V880 M322.5 860V880 M327.5 875V880 M332.5 854V880 M337.5 869V880 M342.5 873V880 M347.5 843V880 M352.5 864V880 M357.5 867V880 M362.5 841V880 M367.5 768V880 M371.5 842V880 M376.5 845V880 M381.5 871V880 M386.5 856V880 M391.5 867V880 M396.5 801V880 M401.5 845V880 M406.5 850V880 M411.5 862V880 M416.5 847V880 M421.5 835V880 M426.5 860V880 M431.5 756V880 M436.5 817V880 M441.5 842V880 M445.5 843V880 M450.5 774V880 M455.5 836V880 M460.5 860V880 M465.5 851V880 M470.5 871V880 M475.5 852V880 M480.5 852V880 M485.5 864V880 M490.5 873V880 M494.5 856V880 M499.5 840V880 M504.5 854V880 M509.5 856V880 M514.5 831V880 M518.5 753V880 M523.5 791V880 M528.5 834V880 M533.5 860V880 M538.5 848V880 M543.5 845V880 M548.5 850V880 M553.5 857V880 M558.5 864V880 M563.5 851V880 M567.5 848V880 M572.5 855V880 M577.5 864V880 M582.5 868V880 M587.5 854V880 M592.5 864V880 M597.5 866V880 M602.5 858V880 M607.5 818V880 M612.5 825V880 M616.5 855V880 M621.5 838V880 M626.5 815V880 M631.5 842V880 M636.5 846V880 M641.5 856V880 M646.5 830V880 M651.5 853V880 M656.5 845V880 M661.5 864V880 M666.5 868V880 M671.5 861V880 M676.5 839V880 M681.5 856V880 M686.5 864V880 M690.5 855V880 M695.5 867V880 M700.5 852V880 M705.5 860V880 M710.5 748V880 M715.5 826V880 M720.5 856V880 M725.5 866V880 M730.5 859V880 M735.5 862V880 M739.5 787V880 M744.5 845V880 M749.5 787V880 M754.5 764V880 M759.5 756V880 M764.5 826V880 M769.5 826V880 M774.5 826V880 M779.5 767V880 M784.5 818V880 M788.5 810V880 M793.5 817V880 M798.5 694V880 M803.5 778V880 M808.5 801V880 M812.5 792V880 M817.5 795V880 M822.5 841V880 M827.5 837V880 M832.5 830V880 M837.5 861V880 M842.5 729V880 M847.5 766V880 M852.5 791V880 M857.5 782V880 M862.5 790V880 M867.5 788V880 M872.5 811V880 M877.5 707V880 M882.5 811V880 M887.5 832V880 M892.5 823V880 M897.5 802V880 M901.5 836V880 M906.5 813V880 M911.5 835V880 M916.5 794V880 M921.5 773V880 M926.5 826V880 M931.5 844V880 M935.5 826V880 M940.5 858V880 M945.5 851V880 M950.5 849V880 M955.5 861V880 M960.5 868V880 M965.5 862V880 M970.5 849V880 M975.5 828V880 M980.5 832V880 M985.5 855V880 M990.5 845V880 M994.5 846V880 M999.5 841V880 M1005.5 845V880 M1010.5 831V880 M1015.5 854V880 M1020.5 856V880 M1025.5 843V880 M1030.5 707V880 M1035.5 815V880 M1039.5 824V880 M1044.5 831V880 M1048.5 845V880 M1053.5 837V880 M1058.5 680V880 M1063.5 766V880 M1067.5 747V880 M1072.5 780V880 M1077.5 780V880 M1082.5 737V880 M1087.5 732V880 M1092.5 782V880 M1097.5 824V880 M1102.5 843V880 M1107.5 846V880 M1112.5 830V880 M1117.5 803V880 M1122.5 807V880 M1127.5 847V880 M1132.5 832V880 M1137.5 834V880 M1141.5 849V880 M1146.5 848V880 M1151.5 851V880 M1156.5 859V880 M1161.5 865V880 M1166.5 852V880 M1171.5 833V880 M1176.5 849V880 M1181.5 852V880 M1185.5 848V880 M1190.5 777V880 M1195.5 826V880 M1200.5 797V880 M1205.5 811V880 M1210.5 833V880 M1215.5 836V880 M1220.5 840V880 M1225.5 844V880 M1230.5 809V880 M1235.5 828V880 M1239.5 798V880 M1244.5 834V880 M1249.5 827V880 M1254.5 827V880 M1259.5 834V880 M1264.5 864V880 M1269.5 856V880 M1274.5 854V880 M1279.5 839V880 M1284.5 795V880 M1288.5 833V880 M1293.5 843V880 M1298.5 833V880 M1303.5 837V880 M1308.5 818V880 M1313.5 793V880 M1318.5 812V880 M1322.5 828V880 M1327.5 815V880 M1332.5 827V880 M1337.5 796V880 M1342.5 807V880 M1347.5 842V880 M1352.5 847V880 M1357.5 746V880 M1362.5 821V880 M1367.5 815V880 M1372.5 667V880 M1377.5 811V880 M1381.5 802V880 M1386.5 795V880 M1391.5 810V880 M1396.5 776V880 M1401.5 792V880 M1406.5 794V880 M1411.5 755V880 M1416.5 804V880 M1421.5 735V880 M1426.5 810V880 M1430.5 827V880 M1435.5 851V880 M1440.5 851V880 M1445.5 846V880 M1450.5 844V880 M1455.5 841V880 M1460.5 843V880 M1465.5 820V880 M1470.5 824V880 M1475.5 829V880 M1479.5 852V880 M1484.5 850V880 M1489.5 802V880 M1494.5 832V880 M1499.5 785V880 M1504.5 827V880 M1509.5 846V880 M1514.5 789V880 M1519.5 822V880 M1524.5 828V880 M1529.5 738V880 M1534.5 720V880 M1539.5 776V880 M1544.5 818V880 M1549.5 794V880 M1553.5 838V880 M1558.5 764V880 M1563.5 823V880 M1568.5 812V880 M1572.5 781V880 M1577.5 802V880 M1582.5 804V880 M1587.5 825V880 M1592.5 835V880 M1597.5 838V880 M1602.5 857V880 M1607.5 854V880 M1612.5 850V880 M1617.5 855V880 M1621.5 838V880 M1626.5 853V880 M1631.5 862V880 M1636.5 859V880 M1641.5 851V880 M1646.5 842V880 M1651.5 835V880 M1656.5 846V880 M1661.5 849V880 M1666.5 810V880 M1671.5 702V880 M1676.5 778V880 M1681.5 799V880 M1686.5 834V880 M1691.5 837V880 M1696.5 834V880 M1700.5 842V880 M1705.5 817V880 M1710.5 838V880 M1715.5 823V880 M1720.5 809V880 M1725.5 852V880 M1730.5 847V880 M1735.5 830V880 M1740.5 848V880 M1745.5 844V880 M1750.5 818V880 M1754.5 796V880 M1759.5 815V880 M1764.5 782V880 M1769.5 818V880 M1774.5 844V880 M1779.5 850V880 M1784.5 846V880 M1789.5 689V880 M1794.5 690V880 M1799.5 838V880" stroke="#0000ff" stroke-width="1" fill="none" shape-rendering="crispEdges"/>
<g fill="#000"><rect x="35" y="844" width="1820" height="1"/><rect x="35" y="683" width="1820" height="1"/></g>
<polyline points="36.0,690.4 38.5,685.2 43.5,680.0 48.5,699.6 53.5,695.7 58.5,692.5 62.5,787.2 67.5,746.7 72.5,788.5 77.5,812.0 82.5,826.4 87.5,835.5 92.5,847.8 97.5,847.8 102.5,853.8 107.5,776.2 111.5,793.7 116.5,789.3 121.5,799.0 126.5,810.2 131.5,763.6 136.5,695.7 141.5,695.2 146.5,766.3 151.5,727.0 156.5,763.6 161.5,722.3 166.5,736.2 171.5,784.0 176.5,779.3 180.5,731.0 185.5,721.8 190.5,843.4 195.5,847.3 200.5,842.1 205.5,846.0 210.5,853.1 215.5,853.1 220.5,856.5 225.5,859.1 229.5,855.2 234.5,720.5 239.5,729.7 244.5,715.3 249.5,682.6 253.5,751.9 258.5,749.3 263.5,759.0 268.5,731.0 273.5,723.9 278.5,742.7 283.5,817.2 288.5,832.1 293.5,744.0 298.5,792.9 303.5,737.5 308.5,724.4 313.5,749.3 318.5,704.0 322.5,732.8 327.5,727.0 332.5,704.8 337.5,720.5 342.5,744.8 347.5,706.1 352.5,689.1 357.5,768.9 362.5,717.9 367.5,800.2 371.5,807.6 376.5,744.0 381.5,766.8 386.5,757.1 391.5,729.7 396.5,690.4 401.5,679.5 406.5,712.7 411.5,740.1 416.5,729.7 421.5,687.3 426.5,689.1 431.5,670.1 436.5,707.4 441.5,719.2 445.5,755.3 450.5,720.5 455.5,761.0 460.5,761.0 465.5,765.0 470.5,738.8 475.5,713.5 480.5,695.7 485.5,721.8 490.5,740.1 494.5,695.7 499.5,676.9 504.5,719.2 509.5,701.4 514.5,681.3 518.5,667.4 523.5,667.4 528.5,667.4 533.5,672.1 538.5,669.5 543.5,727.0 548.5,704.8 553.5,700.9 558.5,751.9 563.5,712.7 567.5,728.4 572.5,737.5 577.5,731.0 582.5,704.8 587.5,685.2 592.5,684.7 597.5,727.0 602.5,680.0 607.5,666.9 612.5,665.1 616.5,665.1 621.5,665.1 626.5,774.1 631.5,753.2 636.5,780.6 641.5,779.3 646.5,809.4 651.5,833.7 656.5,758.4 661.5,736.2 666.5,725.7 671.5,805.0 676.5,736.2 681.5,785.9 686.5,758.4 690.5,746.7 695.5,720.5 700.5,696.2 705.5,745.3 710.5,750.6 715.5,810.7 720.5,819.9 725.5,809.4 730.5,788.5 735.5,745.3 739.5,676.9 744.5,699.6 749.5,677.9 754.5,675.3 759.5,670.8 764.5,719.2 769.5,700.9 774.5,695.7 779.5,677.4 784.5,673.5 788.5,672.1 793.5,755.8 798.5,715.3 803.5,753.2 808.5,717.9 812.5,723.1 817.5,789.8 822.5,798.9 827.5,761.0 832.5,745.3 837.5,745.3 842.5,676.9 847.5,674.2 852.5,671.6 857.5,669.0 862.5,727.0 867.5,749.3 872.5,788.5 877.5,832.9 882.5,813.3 887.5,822.5 892.5,831.6 897.5,759.7 901.5,753.7 906.5,751.9 911.5,797.6 916.5,844.7 921.5,849.9 926.5,757.1 931.5,772.8 935.5,742.7 940.5,743.3 945.5,714.0 950.5,693.1 955.5,717.9 960.5,734.9 965.5,717.9 970.5,757.1 975.5,702.2 980.5,682.6 985.5,680.0 990.5,673.5 994.5,702.2 999.5,682.6 1005.5,676.9 1010.5,678.7 1015.5,710.8 1020.5,690.4 1025.5,688.4 1030.5,823.8 1035.5,829.5 1039.5,782.0 1044.5,748.0 1048.5,720.5 1053.5,691.8 1058.5,671.6 1063.5,670.1 1067.5,668.2 1072.5,699.6 1077.5,685.2 1082.5,675.3 1087.5,678.7 1092.5,751.9 1097.5,749.3 1102.5,766.8 1107.5,734.9 1112.5,800.2 1117.5,726.5 1122.5,783.3 1127.5,800.2 1132.5,823.3 1137.5,790.3 1141.5,804.2 1146.5,807.6 1151.5,788.5 1156.5,808.1 1161.5,826.4 1166.5,840.8 1171.5,760.5 1176.5,804.2 1181.5,806.0 1185.5,750.6 1190.5,685.2 1195.5,687.3 1200.5,676.9 1205.5,765.0 1210.5,743.3 1215.5,720.5 1220.5,716.6 1225.5,716.1 1230.5,695.7 1235.5,729.7 1239.5,781.4 1244.5,740.1 1249.5,707.4 1254.5,729.7 1259.5,789.3 1264.5,780.6 1269.5,746.7 1274.5,775.4 1279.5,737.5 1284.5,689.1 1288.5,749.3 1293.5,783.3 1298.5,815.9 1303.5,801.6 1308.5,731.0 1313.5,715.3 1318.5,802.3 1322.5,748.0 1327.5,715.3 1332.5,723.1 1337.5,791.1 1342.5,774.1 1347.5,774.1 1352.5,742.7 1357.5,687.8 1362.5,737.5 1367.5,707.4 1372.5,800.2 1377.5,802.3 1381.5,774.1 1386.5,737.5 1391.5,714.5 1396.5,697.0 1401.5,690.4 1406.5,679.5 1411.5,671.6 1416.5,671.6 1421.5,768.9 1426.5,796.3 1430.5,797.6 1435.5,810.2 1440.5,761.0 1445.5,788.5 1450.5,748.0 1455.5,708.7 1460.5,723.1 1465.5,693.1 1470.5,688.4 1475.5,776.7 1479.5,751.9 1484.5,776.7 1489.5,704.8 1494.5,740.6 1499.5,702.2 1504.5,738.8 1509.5,724.4 1514.5,692.5 1519.5,702.2 1524.5,733.6 1529.5,678.7 1534.5,673.5 1539.5,672.7 1544.5,672.1 1549.5,670.8 1553.5,669.5 1558.5,782.0 1563.5,808.1 1568.5,823.8 1572.5,846.8 1577.5,822.5 1582.5,838.9 1587.5,793.7 1592.5,793.7 1597.5,780.6 1602.5,755.8 1607.5,761.0 1612.5,782.0 1617.5,808.1 1621.5,834.2 1626.5,784.6 1631.5,812.0 1636.5,771.5 1641.5,826.4 1646.5,842.1 1651.5,848.6 1656.5,851.2 1661.5,805.5 1666.5,826.4 1671.5,849.9 1676.5,802.9 1681.5,819.9 1686.5,808.1 1691.5,819.9 1696.5,826.9 1700.5,808.6 1705.5,843.4 1710.5,846.8 1715.5,850.4 1720.5,853.8 1725.5,857.2 1730.5,859.1 1735.5,860.4 1740.5,812.0 1745.5,826.9 1750.5,737.5 1754.5,704.8 1759.5,685.2 1764.5,677.9 1769.5,747.4 1774.5,743.3 1779.5,749.3 1784.5,741.4 1789.5,830.3 1794.5,849.4 1799.5,847.8" stroke="#ff0000" stroke-width="1" fill="none" shape-rendering="crispEdges"/>
<g fill="#000"><rect x="48" y="880" width="1" height="11"/><rect x="72" y="880" width="1" height="11"/><rect x="97" y="880" width="1" height="11"/><rect x="121" y="880" width="1" height="11"/><rect x="141" y="880" width="1" height="11"/><rect x="166" y="880" width="1" height="11"/><rect x="190" y="880" width="1" height="11"/><rect x="215" y="880" width="1" height="11"/><rect x="239" y="880" width="1" height="11"/><rect x="258" y="880" width="1" height="11"/><rect x="283" y="880" width="1" height="11"/><rect x="308" y="880" width="1" height="11"/><rect x="332" y="880" width="1" height="11"/><rect x="357" y="880" width="1" height="11"/><rect x="381" y="880" width="1" height="11"/><rect x="406" y="880" width="1" height="11"/><rect x="431" y="880" width="1" height="11"/><rect x="455" y="880" width="1" height="11"/><rect x="480" y="880" width="1" height="11"/><rect x="504" y="880" width="1" height="11"/><rect x="528" y="880" width="1" height="11"/><rect x="553" y="880" width="1" height="11"/><rect x="577" y="880" width="1" height="11"/><rect x="587" y="880" width="1" height="11"/><rect x="602" y="880" width="1" height="11"/><rect x="626" y="880" width="1" height="11"/><rect x="651" y="880" width="1" height="11"/><rect x="676" y="880" width="1" height="11"/><rect x="700" y="880" width="1" height="11"/><rect x="725" y="880" width="1" height="11"/><rect x="749" y="880" width="1" height="11"/><rect x="774" y="880" width="1" height="11"/><rect x="798" y="880" width="1" height="11"/><rect x="822" y="880" width="1" height="11"/><rect x="847" y="880" width="1" height="11"/><rect x="872" y="880" width="1" height="11"/><rect x="897" y="880" width="1" height="11"/><rect x="921" y="880" width="1" height="11"/><rect x="945" y="880" width="1" height="11"/><rect x="965" y="880" width="1" height="11"/><rect x="985" y="880" width="1" height="11"/><rect x="1005" y="880" width="1" height="11"/><rect x="1030" y="880" width="1" height="11"/><rect x="1053" y="880" width="1" height="11"/><rect x="1077" y="880" width="1" height="11"/><rect x="1102" y="880" width="1" height="11"/><rect x="1127" y="880" width="1" height="11"/><rect x="1151" y="880" width="1" height="11"/><rect x="1176" y="880" width="1" height="11"/><rect x="1200" y="880" width="1" height="11"/><rect x="1225" y="880" width="1" height="11"/><rect x="1249" y="880" width="1" height="11"/><rect x="1274" y="880" width="1" height="11"/><rect x="1298" y="880" width="1" height="11"/><rect x="1322" y="880" width="1" height="11"/><rect x="1347" y="880" width="1" height="11"/><rect x="1367" y="880" width="1" height="11"/><rect x="1391" y="880" width="1" height="11"/><rect x="1416" y="880" width="1" height="11"/><rect x="1440" y="880" width="1" height="11"/><rect x="1465" y="880" width="1" height="11"/><rect x="1489" y="880" width="1" height="11"/><rect x="1514" y="880" width="1" height="11"/><rect x="1539" y="880" width="1" height="11"/><rect x="1563" y="880" width="1" height="11"/><rect x="1587" y="880" width="1" height="11"/><rect x="1612" y="880" width="1" height="11"/><rect x="1636" y="880" width="1" height="11"/><rect x="1661" y="880" width="1" height="11"/><rect x="1686" y="880" width="1" height="11"/><rect x="1710" y="880" width="1" height="11"/><rect x="1735" y="880" width="1" height="11"/><rect x="1759" y="880" width="1" height="11"/><rect x="1784" y="880" width="1" height="11"/><rect x="1808" y="880" width="1" height="11"/><rect x="1832" y="880" width="1" height="11"/><rect x="87" y="880" width="1" height="22"/><rect x="190" y="880" width="1" height="22"/><rect x="288" y="880" width="1" height="22"/><rect x="401" y="880" width="1" height="22"/><rect x="504" y="880" width="1" height="22"/><rect x="592" y="880" width="1" height="22"/><rect x="700" y="880" width="1" height="22"/><rect x="798" y="880" width="1" height="22"/><rect x="901" y="880" width="1" height="22"/><rect x="999" y="880" width="1" height="22"/><rect x="1102" y="880" width="1" height="22"/><rect x="1205" y="880" width="1" height="22"/><rect x="1318" y="880" width="1" height="22"/><rect x="1416" y="880" width="1" height="22"/><rect x="1524" y="880" width="1" height="22"/><rect x="1636" y="880" width="1" height="22"/><rect x="1735" y="880" width="1" height="22"/><rect x="1847" y="880" width="1" height="22"/></g>
<svg x="0" y="880" width="1855" height="22" overflow="hidden"><g transform="translate(0,-880)"><text x="49" y="889" class="t8">22</text><text x="73" y="889" class="t8">29</text><text x="98" y="889" class="t8">5</text><text x="122" y="889" class="t8">12</text><text x="142" y="889" class="t8">19</text><text x="167" y="889" class="t8">26</text><text x="191" y="889" class="t8">2</text><text x="216" y="889" class="t8">9</text><text x="240" y="889" class="t8">17</text><text x="259" y="889" class="t8">23</text><text x="284" y="889" class="t8">30</text><text x="309" y="889" class="t8">7</text><text x="333" y="889" class="t8">14</text><text x="358" y="889" class="t8">21</text><text x="382" y="889" class="t8">28</text><text x="407" y="889" class="t8">4</text><text x="432" y="889" class="t8">11</text><text x="456" y="889" class="t8">18</text><text x="481" y="889" class="t8">25</text><text x="505" y="889" class="t8">2</text><text x="529" y="889" class="t8">9</text><text x="554" y="889" class="t8">16</text><text x="578" y="889" class="t8">23</text><text x="603" y="889" class="t8">6</text><text x="627" y="889" class="t8">13</text><text x="652" y="889" class="t8">20</text><text x="677" y="889" class="t8">27</text><text x="701" y="889" class="t8">3</text><text x="726" y="889" class="t8">10</text><text x="750" y="889" class="t8">17</text><text x="775" y="889" class="t8">24</text><text x="799" y="889" class="t8">3</text><text x="823" y="889" class="t8">10</text><text x="848" y="889" class="t8">17</text><text x="873" y="889" class="t8">24</text><text x="898" y="889" class="t8">31</text><text x="922" y="889" class="t8">7</text><text x="946" y="889" class="t8">14</text><text x="966" y="889" class="t8">22</text><text x="986" y="889" class="t8">28</text><text x="1006" y="889" class="t8">5</text><text x="1031" y="889" class="t8">12</text><text x="1054" y="889" class="t8">19</text><text x="1078" y="889" class="t8">26</text><text x="1103" y="889" class="t8">2</text><text x="1128" y="889" class="t8">9</text><text x="1152" y="889" class="t8">16</text><text x="1177" y="889" class="t8">23</text><text x="1201" y="889" class="t8">30</text><text x="1226" y="889" class="t8">7</text><text x="1250" y="889" class="t8">14</text><text x="1275" y="889" class="t8">21</text><text x="1299" y="889" class="t8">28</text><text x="1323" y="889" class="t8">4</text><text x="1348" y="889" class="t8">11</text><text x="1368" y="889" class="t8">18</text><text x="1392" y="889" class="t8">25</text><text x="1417" y="889" class="t8">1</text><text x="1441" y="889" class="t8">8</text><text x="1466" y="889" class="t8">15</text><text x="1490" y="889" class="t8">22</text><text x="1515" y="889" class="t8">29</text><text x="1540" y="889" class="t8">6</text><text x="1564" y="889" class="t8">13</text><text x="1588" y="889" class="t8">20</text><text x="1613" y="889" class="t8">27</text><text x="1637" y="889" class="t8">3</text><text x="1662" y="889" class="t8">10</text><text x="1687" y="889" class="t8">17</text><text x="1711" y="889" class="t8">24</text><text x="1736" y="889" class="t8">1</text><text x="1760" y="889" class="t8">8</text><text x="1785" y="889" class="t8">15</text><text x="1809" y="889" class="t8">22</text><text x="1833" y="889" class="t8">29</text><text x="88" y="900" class="t8">August</text><text x="191" y="900" class="t8">September</text><text x="289" y="900" class="t8">October</text><text x="402" y="900" class="t8">November</text><text x="505" y="900" class="t8">December</text><text x="593" y="900" class="t8">2025</text><text x="701" y="900" class="t8">February</text><text x="799" y="900" class="t8">March</text><text x="902" y="900" class="t8">April</text><text x="1000" y="900" class="t8">May</text><text x="1103" y="900" class="t8">June</text><text x="1206" y="900" class="t8">July</text><text x="1319" y="900" class="t8">August</text><text x="1417" y="900" class="t8">September</text><text x="1525" y="900" class="t8">October</text><text x="1637" y="900" class="t8">November</text><text x="1736" y="900" class="t8">December</text><text x="1848" y="900" class="t8">2026</text></g></svg>
<path d="M1857.5 880V872.5H1873.5V880" stroke="#000" fill="none"/>
<text x="1859" y="878.5" style="font-size:6px" fill="#555">x100</text>
<rect x="410.5" y="74.5" width="362" height="47" fill="#ffff00" stroke="#000"/>
<text class="ann" x="412.2" y="86">Fincantieri sui 15,69 con calma.</text>
<text class="ann" x="412.2" y="102">Rimane in direzione dell'area 15 con ipervenduto di Rsi.</text>
<text class="ann" x="412.2" y="118">Lasciamola stare.</text>
</svg></body></html>
